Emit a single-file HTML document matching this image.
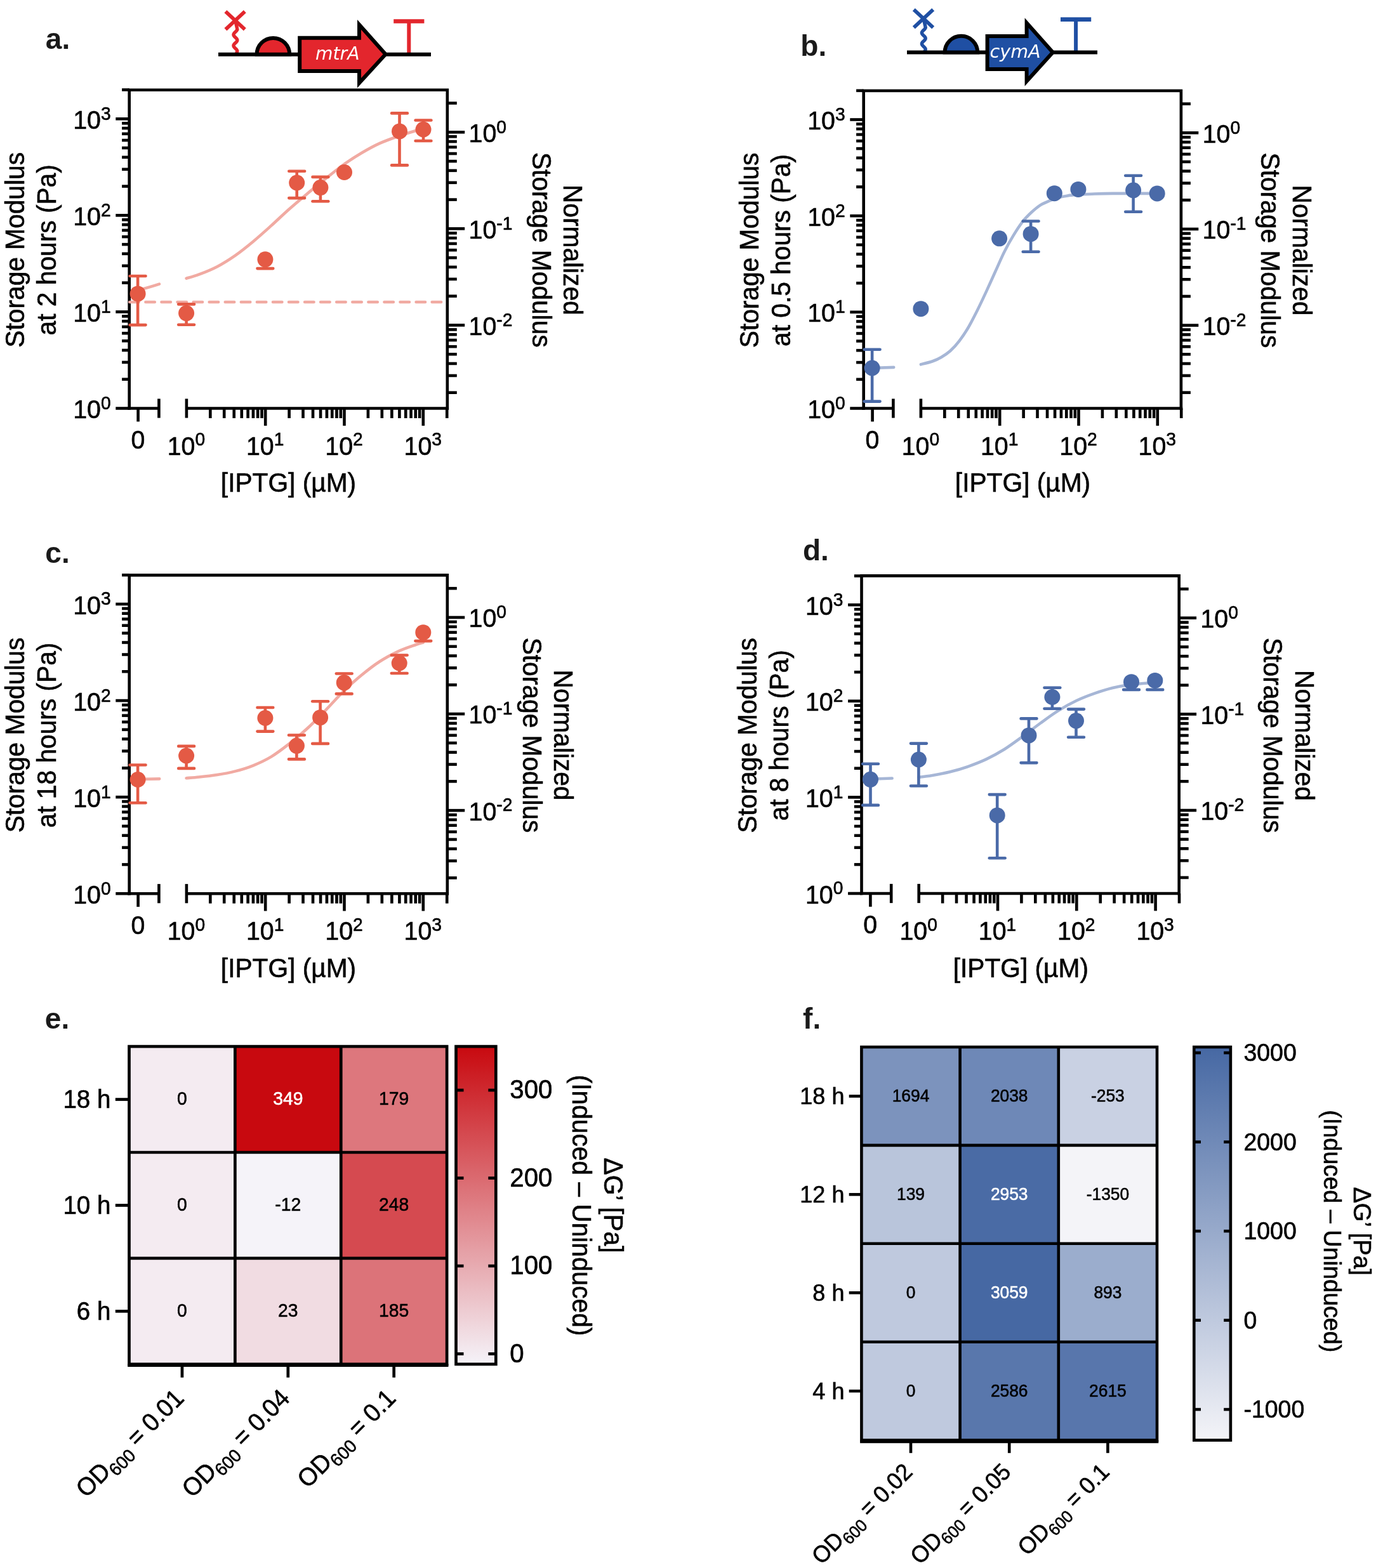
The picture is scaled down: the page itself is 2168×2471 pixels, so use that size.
<!DOCTYPE html>
<html><head><meta charset="utf-8"><title>Figure</title>
<style>
html,body{margin:0;padding:0;background:#fff;}
svg{display:block;font-family:"Liberation Sans", Arial, Helvetica, sans-serif;}
</style></head><body>
<svg width="2168" height="2471" viewBox="0 0 2168 2471">
<rect width="2168" height="2471" fill="#fff"/>
<path d="M203.70 645.80 V141.70 H704.80 V645.80" fill="none" stroke="#000" stroke-width="4.6" stroke-linejoin="miter"/>
<line x1="201.40" y1="643.50" x2="250.40" y2="643.50" stroke="#000" stroke-width="4.6" stroke-linecap="butt" />
<line x1="293.90" y1="643.50" x2="707.10" y2="643.50" stroke="#000" stroke-width="4.6" stroke-linecap="butt" />
<line x1="250.40" y1="628.40" x2="250.40" y2="658.60" stroke="#000" stroke-width="4.6" stroke-linecap="butt" />
<line x1="293.90" y1="628.40" x2="293.90" y2="658.60" stroke="#000" stroke-width="4.6" stroke-linecap="butt" />
<line x1="217.60" y1="643.50" x2="217.60" y2="664.40" stroke="#000" stroke-width="4.6" stroke-linecap="butt" />
<line x1="331.32" y1="643.50" x2="331.32" y2="659.00" stroke="#000" stroke-width="4.6" stroke-linecap="butt" />
<line x1="353.21" y1="643.50" x2="353.21" y2="659.00" stroke="#000" stroke-width="4.6" stroke-linecap="butt" />
<line x1="368.74" y1="643.50" x2="368.74" y2="659.00" stroke="#000" stroke-width="4.6" stroke-linecap="butt" />
<line x1="380.78" y1="643.50" x2="380.78" y2="659.00" stroke="#000" stroke-width="4.6" stroke-linecap="butt" />
<line x1="390.62" y1="643.50" x2="390.62" y2="659.00" stroke="#000" stroke-width="4.6" stroke-linecap="butt" />
<line x1="398.95" y1="643.50" x2="398.95" y2="659.00" stroke="#000" stroke-width="4.6" stroke-linecap="butt" />
<line x1="406.15" y1="643.50" x2="406.15" y2="659.00" stroke="#000" stroke-width="4.6" stroke-linecap="butt" />
<line x1="412.51" y1="643.50" x2="412.51" y2="659.00" stroke="#000" stroke-width="4.6" stroke-linecap="butt" />
<line x1="418.20" y1="643.50" x2="418.20" y2="670.90" stroke="#000" stroke-width="4.6" stroke-linecap="butt" />
<line x1="455.62" y1="643.50" x2="455.62" y2="659.00" stroke="#000" stroke-width="4.6" stroke-linecap="butt" />
<line x1="477.51" y1="643.50" x2="477.51" y2="659.00" stroke="#000" stroke-width="4.6" stroke-linecap="butt" />
<line x1="493.04" y1="643.50" x2="493.04" y2="659.00" stroke="#000" stroke-width="4.6" stroke-linecap="butt" />
<line x1="505.08" y1="643.50" x2="505.08" y2="659.00" stroke="#000" stroke-width="4.6" stroke-linecap="butt" />
<line x1="514.92" y1="643.50" x2="514.92" y2="659.00" stroke="#000" stroke-width="4.6" stroke-linecap="butt" />
<line x1="523.25" y1="643.50" x2="523.25" y2="659.00" stroke="#000" stroke-width="4.6" stroke-linecap="butt" />
<line x1="530.45" y1="643.50" x2="530.45" y2="659.00" stroke="#000" stroke-width="4.6" stroke-linecap="butt" />
<line x1="536.81" y1="643.50" x2="536.81" y2="659.00" stroke="#000" stroke-width="4.6" stroke-linecap="butt" />
<line x1="542.50" y1="643.50" x2="542.50" y2="670.90" stroke="#000" stroke-width="4.6" stroke-linecap="butt" />
<line x1="579.92" y1="643.50" x2="579.92" y2="659.00" stroke="#000" stroke-width="4.6" stroke-linecap="butt" />
<line x1="601.81" y1="643.50" x2="601.81" y2="659.00" stroke="#000" stroke-width="4.6" stroke-linecap="butt" />
<line x1="617.34" y1="643.50" x2="617.34" y2="659.00" stroke="#000" stroke-width="4.6" stroke-linecap="butt" />
<line x1="629.38" y1="643.50" x2="629.38" y2="659.00" stroke="#000" stroke-width="4.6" stroke-linecap="butt" />
<line x1="639.22" y1="643.50" x2="639.22" y2="659.00" stroke="#000" stroke-width="4.6" stroke-linecap="butt" />
<line x1="647.55" y1="643.50" x2="647.55" y2="659.00" stroke="#000" stroke-width="4.6" stroke-linecap="butt" />
<line x1="654.75" y1="643.50" x2="654.75" y2="659.00" stroke="#000" stroke-width="4.6" stroke-linecap="butt" />
<line x1="661.11" y1="643.50" x2="661.11" y2="659.00" stroke="#000" stroke-width="4.6" stroke-linecap="butt" />
<line x1="666.80" y1="643.50" x2="666.80" y2="670.90" stroke="#000" stroke-width="4.6" stroke-linecap="butt" />
<line x1="704.22" y1="643.50" x2="704.22" y2="659.00" stroke="#000" stroke-width="4.6" stroke-linecap="butt" />
<text transform="translate(217.30 706.90) scale(1 1.04)" font-size="39.3" text-anchor="middle" font-weight="normal" font-style="normal" fill="#000" stroke="#000" stroke-width="0.6" >0</text>
<text transform="translate(263.70 716.60) scale(1 1.04)" font-size="39.3" text-anchor="start" font-weight="normal" font-style="normal" fill="#000" stroke="#000" stroke-width="0.6" >10<tspan font-size="28.2" dy="-13.6">0</tspan></text>
<text transform="translate(388.00 716.60) scale(1 1.04)" font-size="39.3" text-anchor="start" font-weight="normal" font-style="normal" fill="#000" stroke="#000" stroke-width="0.6" >10<tspan font-size="28.2" dy="-13.6">1</tspan></text>
<text transform="translate(512.30 716.60) scale(1 1.04)" font-size="39.3" text-anchor="start" font-weight="normal" font-style="normal" fill="#000" stroke="#000" stroke-width="0.6" >10<tspan font-size="28.2" dy="-13.6">2</tspan></text>
<text transform="translate(636.60 716.60) scale(1 1.04)" font-size="39.3" text-anchor="start" font-weight="normal" font-style="normal" fill="#000" stroke="#000" stroke-width="0.6" >10<tspan font-size="28.2" dy="-13.6">3</tspan></text>
<line x1="182.30" y1="643.50" x2="203.70" y2="643.50" stroke="#000" stroke-width="4.6" stroke-linecap="butt" />
<text transform="translate(115.20 659.10) scale(1 1.04)" font-size="39.3" text-anchor="start" font-weight="normal" font-style="normal" fill="#000" stroke="#000" stroke-width="0.6" >10<tspan font-size="28.2" dy="-13.6">0</tspan></text>
<line x1="192.10" y1="597.72" x2="203.70" y2="597.72" stroke="#000" stroke-width="4.6" stroke-linecap="butt" />
<line x1="192.10" y1="570.94" x2="203.70" y2="570.94" stroke="#000" stroke-width="4.6" stroke-linecap="butt" />
<line x1="192.10" y1="551.94" x2="203.70" y2="551.94" stroke="#000" stroke-width="4.6" stroke-linecap="butt" />
<line x1="192.10" y1="537.21" x2="203.70" y2="537.21" stroke="#000" stroke-width="4.6" stroke-linecap="butt" />
<line x1="192.10" y1="525.17" x2="203.70" y2="525.17" stroke="#000" stroke-width="4.6" stroke-linecap="butt" />
<line x1="192.10" y1="514.99" x2="203.70" y2="514.99" stroke="#000" stroke-width="4.6" stroke-linecap="butt" />
<line x1="192.10" y1="506.17" x2="203.70" y2="506.17" stroke="#000" stroke-width="4.6" stroke-linecap="butt" />
<line x1="192.10" y1="498.39" x2="203.70" y2="498.39" stroke="#000" stroke-width="4.6" stroke-linecap="butt" />
<line x1="182.30" y1="491.43" x2="203.70" y2="491.43" stroke="#000" stroke-width="4.6" stroke-linecap="butt" />
<text transform="translate(115.20 507.03) scale(1 1.04)" font-size="39.3" text-anchor="start" font-weight="normal" font-style="normal" fill="#000" stroke="#000" stroke-width="0.6" >10<tspan font-size="28.2" dy="-13.6">1</tspan></text>
<line x1="192.10" y1="445.65" x2="203.70" y2="445.65" stroke="#000" stroke-width="4.6" stroke-linecap="butt" />
<line x1="192.10" y1="418.87" x2="203.70" y2="418.87" stroke="#000" stroke-width="4.6" stroke-linecap="butt" />
<line x1="192.10" y1="399.87" x2="203.70" y2="399.87" stroke="#000" stroke-width="4.6" stroke-linecap="butt" />
<line x1="192.10" y1="385.14" x2="203.70" y2="385.14" stroke="#000" stroke-width="4.6" stroke-linecap="butt" />
<line x1="192.10" y1="373.10" x2="203.70" y2="373.10" stroke="#000" stroke-width="4.6" stroke-linecap="butt" />
<line x1="192.10" y1="362.92" x2="203.70" y2="362.92" stroke="#000" stroke-width="4.6" stroke-linecap="butt" />
<line x1="192.10" y1="354.10" x2="203.70" y2="354.10" stroke="#000" stroke-width="4.6" stroke-linecap="butt" />
<line x1="192.10" y1="346.32" x2="203.70" y2="346.32" stroke="#000" stroke-width="4.6" stroke-linecap="butt" />
<line x1="182.30" y1="339.36" x2="203.70" y2="339.36" stroke="#000" stroke-width="4.6" stroke-linecap="butt" />
<text transform="translate(115.20 354.96) scale(1 1.04)" font-size="39.3" text-anchor="start" font-weight="normal" font-style="normal" fill="#000" stroke="#000" stroke-width="0.6" >10<tspan font-size="28.2" dy="-13.6">2</tspan></text>
<line x1="192.10" y1="293.58" x2="203.70" y2="293.58" stroke="#000" stroke-width="4.6" stroke-linecap="butt" />
<line x1="192.10" y1="266.80" x2="203.70" y2="266.80" stroke="#000" stroke-width="4.6" stroke-linecap="butt" />
<line x1="192.10" y1="247.80" x2="203.70" y2="247.80" stroke="#000" stroke-width="4.6" stroke-linecap="butt" />
<line x1="192.10" y1="233.07" x2="203.70" y2="233.07" stroke="#000" stroke-width="4.6" stroke-linecap="butt" />
<line x1="192.10" y1="221.03" x2="203.70" y2="221.03" stroke="#000" stroke-width="4.6" stroke-linecap="butt" />
<line x1="192.10" y1="210.85" x2="203.70" y2="210.85" stroke="#000" stroke-width="4.6" stroke-linecap="butt" />
<line x1="192.10" y1="202.03" x2="203.70" y2="202.03" stroke="#000" stroke-width="4.6" stroke-linecap="butt" />
<line x1="192.10" y1="194.25" x2="203.70" y2="194.25" stroke="#000" stroke-width="4.6" stroke-linecap="butt" />
<line x1="182.30" y1="187.29" x2="203.70" y2="187.29" stroke="#000" stroke-width="4.6" stroke-linecap="butt" />
<text transform="translate(115.20 202.89) scale(1 1.04)" font-size="39.3" text-anchor="start" font-weight="normal" font-style="normal" fill="#000" stroke="#000" stroke-width="0.6" >10<tspan font-size="28.2" dy="-13.6">3</tspan></text>
<line x1="192.10" y1="141.51" x2="203.70" y2="141.51" stroke="#000" stroke-width="4.6" stroke-linecap="butt" />
<line x1="704.80" y1="208.30" x2="732.20" y2="208.30" stroke="#000" stroke-width="4.6" stroke-linecap="butt" />
<text transform="translate(738.60 223.70) scale(1 1.04)" font-size="39.3" text-anchor="start" font-weight="normal" font-style="normal" fill="#000" stroke="#000" stroke-width="0.6" >10<tspan font-size="28.2" dy="-13.6">0</tspan></text>
<line x1="704.80" y1="360.37" x2="732.20" y2="360.37" stroke="#000" stroke-width="4.6" stroke-linecap="butt" />
<text transform="translate(738.60 375.77) scale(1 1.04)" font-size="39.3" text-anchor="start" font-weight="normal" font-style="normal" fill="#000" stroke="#000" stroke-width="0.6" >10<tspan font-size="28.2" dy="-13.6">-1</tspan></text>
<line x1="704.80" y1="512.44" x2="732.20" y2="512.44" stroke="#000" stroke-width="4.6" stroke-linecap="butt" />
<text transform="translate(738.60 527.84) scale(1 1.04)" font-size="39.3" text-anchor="start" font-weight="normal" font-style="normal" fill="#000" stroke="#000" stroke-width="0.6" >10<tspan font-size="28.2" dy="-13.6">-2</tspan></text>
<line x1="704.80" y1="162.52" x2="719.80" y2="162.52" stroke="#000" stroke-width="4.6" stroke-linecap="butt" />
<line x1="704.80" y1="314.59" x2="719.80" y2="314.59" stroke="#000" stroke-width="4.6" stroke-linecap="butt" />
<line x1="704.80" y1="287.81" x2="719.80" y2="287.81" stroke="#000" stroke-width="4.6" stroke-linecap="butt" />
<line x1="704.80" y1="268.81" x2="719.80" y2="268.81" stroke="#000" stroke-width="4.6" stroke-linecap="butt" />
<line x1="704.80" y1="254.08" x2="719.80" y2="254.08" stroke="#000" stroke-width="4.6" stroke-linecap="butt" />
<line x1="704.80" y1="242.04" x2="719.80" y2="242.04" stroke="#000" stroke-width="4.6" stroke-linecap="butt" />
<line x1="704.80" y1="231.86" x2="719.80" y2="231.86" stroke="#000" stroke-width="4.6" stroke-linecap="butt" />
<line x1="704.80" y1="223.04" x2="719.80" y2="223.04" stroke="#000" stroke-width="4.6" stroke-linecap="butt" />
<line x1="704.80" y1="215.26" x2="719.80" y2="215.26" stroke="#000" stroke-width="4.6" stroke-linecap="butt" />
<line x1="704.80" y1="466.66" x2="719.80" y2="466.66" stroke="#000" stroke-width="4.6" stroke-linecap="butt" />
<line x1="704.80" y1="439.88" x2="719.80" y2="439.88" stroke="#000" stroke-width="4.6" stroke-linecap="butt" />
<line x1="704.80" y1="420.88" x2="719.80" y2="420.88" stroke="#000" stroke-width="4.6" stroke-linecap="butt" />
<line x1="704.80" y1="406.15" x2="719.80" y2="406.15" stroke="#000" stroke-width="4.6" stroke-linecap="butt" />
<line x1="704.80" y1="394.11" x2="719.80" y2="394.11" stroke="#000" stroke-width="4.6" stroke-linecap="butt" />
<line x1="704.80" y1="383.93" x2="719.80" y2="383.93" stroke="#000" stroke-width="4.6" stroke-linecap="butt" />
<line x1="704.80" y1="375.11" x2="719.80" y2="375.11" stroke="#000" stroke-width="4.6" stroke-linecap="butt" />
<line x1="704.80" y1="367.33" x2="719.80" y2="367.33" stroke="#000" stroke-width="4.6" stroke-linecap="butt" />
<line x1="704.80" y1="618.73" x2="719.80" y2="618.73" stroke="#000" stroke-width="4.6" stroke-linecap="butt" />
<line x1="704.80" y1="591.95" x2="719.80" y2="591.95" stroke="#000" stroke-width="4.6" stroke-linecap="butt" />
<line x1="704.80" y1="572.95" x2="719.80" y2="572.95" stroke="#000" stroke-width="4.6" stroke-linecap="butt" />
<line x1="704.80" y1="558.22" x2="719.80" y2="558.22" stroke="#000" stroke-width="4.6" stroke-linecap="butt" />
<line x1="704.80" y1="546.18" x2="719.80" y2="546.18" stroke="#000" stroke-width="4.6" stroke-linecap="butt" />
<line x1="704.80" y1="536.00" x2="719.80" y2="536.00" stroke="#000" stroke-width="4.6" stroke-linecap="butt" />
<line x1="704.80" y1="527.18" x2="719.80" y2="527.18" stroke="#000" stroke-width="4.6" stroke-linecap="butt" />
<line x1="704.80" y1="519.40" x2="719.80" y2="519.40" stroke="#000" stroke-width="4.6" stroke-linecap="butt" />
<path d="M293.6 438.7 C296.9 437.7 305.7 435.5 313.8 432.4 C321.9 429.4 332.7 425.2 342.2 420.2 C351.7 415.2 361.2 409.2 370.7 402.6 C380.1 395.9 389.6 388.3 399.1 380.4 C408.6 372.5 418.1 363.9 427.6 355.4 C437.0 346.8 446.5 337.6 456.0 329.2 C465.5 320.8 475.0 312.9 484.4 305.0 C493.9 297.1 503.4 289.3 512.9 281.7 C522.4 274.1 531.8 266.3 541.3 259.5 C550.8 252.7 560.3 246.6 569.8 241.0 C579.3 235.4 588.3 230.4 598.2 225.9 C608.2 221.4 620.0 217.3 629.5 214.0 C639.0 210.7 648.8 207.8 655.1 206.0 C661.4 204.3 665.1 203.9 667.0 203.5" fill="none" stroke="#f1aaa2" stroke-width="4.6" stroke-linecap="round" stroke-linejoin="round"/>
<path d="M217 457.5 Q236 452.5 251 447.6" fill="none" stroke="#f1aaa2" stroke-width="4.6" stroke-linecap="round" stroke-linejoin="round"/>
<line x1="204.35" y1="476" x2="703" y2="476" stroke="#f1aaa2" stroke-width="4.6" stroke-dasharray="14.4 10.67" stroke-dashoffset="0" stroke-linecap="round"/>
<line x1="217.10" y1="435.00" x2="217.10" y2="512.10" stroke="#e45a45" stroke-width="4.6" stroke-linecap="butt" />
<line x1="204.70" y1="435.00" x2="229.50" y2="435.00" stroke="#e45a45" stroke-width="4.6" stroke-linecap="round" />
<line x1="204.70" y1="512.10" x2="229.50" y2="512.10" stroke="#e45a45" stroke-width="4.6" stroke-linecap="round" />
<line x1="293.60" y1="479.40" x2="293.60" y2="511.80" stroke="#e45a45" stroke-width="4.6" stroke-linecap="butt" />
<line x1="281.20" y1="479.40" x2="306.00" y2="479.40" stroke="#e45a45" stroke-width="4.6" stroke-linecap="round" />
<line x1="281.20" y1="511.80" x2="306.00" y2="511.80" stroke="#e45a45" stroke-width="4.6" stroke-linecap="round" />
<line x1="417.90" y1="408.80" x2="417.90" y2="423.10" stroke="#e45a45" stroke-width="4.6" stroke-linecap="butt" />
<line x1="405.50" y1="423.10" x2="430.30" y2="423.10" stroke="#e45a45" stroke-width="4.6" stroke-linecap="round" />
<line x1="467.70" y1="269.70" x2="467.70" y2="312.10" stroke="#e45a45" stroke-width="4.6" stroke-linecap="butt" />
<line x1="455.30" y1="269.70" x2="480.10" y2="269.70" stroke="#e45a45" stroke-width="4.6" stroke-linecap="round" />
<line x1="455.30" y1="312.10" x2="480.10" y2="312.10" stroke="#e45a45" stroke-width="4.6" stroke-linecap="round" />
<line x1="504.90" y1="278.90" x2="504.90" y2="317.30" stroke="#e45a45" stroke-width="4.6" stroke-linecap="butt" />
<line x1="492.50" y1="278.90" x2="517.30" y2="278.90" stroke="#e45a45" stroke-width="4.6" stroke-linecap="round" />
<line x1="492.50" y1="317.30" x2="517.30" y2="317.30" stroke="#e45a45" stroke-width="4.6" stroke-linecap="round" />
<line x1="629.50" y1="178.40" x2="629.50" y2="260.40" stroke="#e45a45" stroke-width="4.6" stroke-linecap="butt" />
<line x1="617.10" y1="178.40" x2="641.90" y2="178.40" stroke="#e45a45" stroke-width="4.6" stroke-linecap="round" />
<line x1="617.10" y1="260.40" x2="641.90" y2="260.40" stroke="#e45a45" stroke-width="4.6" stroke-linecap="round" />
<line x1="667.00" y1="189.50" x2="667.00" y2="222.00" stroke="#e45a45" stroke-width="4.6" stroke-linecap="butt" />
<line x1="654.60" y1="189.50" x2="679.40" y2="189.50" stroke="#e45a45" stroke-width="4.6" stroke-linecap="round" />
<line x1="654.60" y1="222.00" x2="679.40" y2="222.00" stroke="#e45a45" stroke-width="4.6" stroke-linecap="round" />
<circle cx="217.10" cy="462.90" r="12.5" fill="#e45a45"/>
<circle cx="293.60" cy="493.60" r="12.5" fill="#e45a45"/>
<circle cx="417.90" cy="408.80" r="12.5" fill="#e45a45"/>
<circle cx="467.70" cy="288.00" r="12.5" fill="#e45a45"/>
<circle cx="504.90" cy="295.60" r="12.5" fill="#e45a45"/>
<circle cx="542.50" cy="271.50" r="12.5" fill="#e45a45"/>
<circle cx="629.50" cy="206.90" r="12.5" fill="#e45a45"/>
<circle cx="667.00" cy="204.00" r="12.5" fill="#e45a45"/>
<text transform="translate(38.00 393.80) rotate(-90) scale(1 1.04)" font-size="40.7" text-anchor="middle" font-weight="normal" font-style="normal" fill="#000" stroke="#000" stroke-width="0.6" >Storage Modulus</text>
<text transform="translate(88.00 393.80) rotate(-90) scale(1 1.04)" font-size="40.7" text-anchor="middle" font-weight="normal" font-style="normal" fill="#000" stroke="#000" stroke-width="0.6" >at 2 hours (Pa)</text>
<text transform="translate(888.00 393.80) rotate(90) scale(1 1.04)" font-size="40.7" text-anchor="middle" font-weight="normal" font-style="normal" fill="#000" stroke="#000" stroke-width="0.6" >Normalized</text>
<text transform="translate(838.50 393.80) rotate(90) scale(1 1.04)" font-size="40.7" text-anchor="middle" font-weight="normal" font-style="normal" fill="#000" stroke="#000" stroke-width="0.6" >Storage Modulus</text>
<text transform="translate(454.50 775.30) scale(1 1.04)" font-size="40.7" text-anchor="middle" font-weight="normal" font-style="normal" fill="#000" stroke="#000" stroke-width="0.6" >[IPTG] (µM)</text>
<text transform="translate(71.80 76.50)" font-size="46" text-anchor="start" font-weight="bold" font-style="normal" fill="#1a1a1a" >a.</text>
<path d="M1360.70 645.80 V143.00 H1860.90 V645.80" fill="none" stroke="#000" stroke-width="4.6" stroke-linejoin="miter"/>
<line x1="1358.40" y1="643.50" x2="1407.40" y2="643.50" stroke="#000" stroke-width="4.6" stroke-linecap="butt" />
<line x1="1450.90" y1="643.50" x2="1863.20" y2="643.50" stroke="#000" stroke-width="4.6" stroke-linecap="butt" />
<line x1="1407.40" y1="628.40" x2="1407.40" y2="658.60" stroke="#000" stroke-width="4.6" stroke-linecap="butt" />
<line x1="1450.90" y1="628.40" x2="1450.90" y2="658.60" stroke="#000" stroke-width="4.6" stroke-linecap="butt" />
<line x1="1374.60" y1="643.50" x2="1374.60" y2="664.40" stroke="#000" stroke-width="4.6" stroke-linecap="butt" />
<line x1="1488.32" y1="643.50" x2="1488.32" y2="659.00" stroke="#000" stroke-width="4.6" stroke-linecap="butt" />
<line x1="1510.21" y1="643.50" x2="1510.21" y2="659.00" stroke="#000" stroke-width="4.6" stroke-linecap="butt" />
<line x1="1525.74" y1="643.50" x2="1525.74" y2="659.00" stroke="#000" stroke-width="4.6" stroke-linecap="butt" />
<line x1="1537.78" y1="643.50" x2="1537.78" y2="659.00" stroke="#000" stroke-width="4.6" stroke-linecap="butt" />
<line x1="1547.62" y1="643.50" x2="1547.62" y2="659.00" stroke="#000" stroke-width="4.6" stroke-linecap="butt" />
<line x1="1555.95" y1="643.50" x2="1555.95" y2="659.00" stroke="#000" stroke-width="4.6" stroke-linecap="butt" />
<line x1="1563.15" y1="643.50" x2="1563.15" y2="659.00" stroke="#000" stroke-width="4.6" stroke-linecap="butt" />
<line x1="1569.51" y1="643.50" x2="1569.51" y2="659.00" stroke="#000" stroke-width="4.6" stroke-linecap="butt" />
<line x1="1575.20" y1="643.50" x2="1575.20" y2="670.90" stroke="#000" stroke-width="4.6" stroke-linecap="butt" />
<line x1="1612.62" y1="643.50" x2="1612.62" y2="659.00" stroke="#000" stroke-width="4.6" stroke-linecap="butt" />
<line x1="1634.51" y1="643.50" x2="1634.51" y2="659.00" stroke="#000" stroke-width="4.6" stroke-linecap="butt" />
<line x1="1650.04" y1="643.50" x2="1650.04" y2="659.00" stroke="#000" stroke-width="4.6" stroke-linecap="butt" />
<line x1="1662.08" y1="643.50" x2="1662.08" y2="659.00" stroke="#000" stroke-width="4.6" stroke-linecap="butt" />
<line x1="1671.92" y1="643.50" x2="1671.92" y2="659.00" stroke="#000" stroke-width="4.6" stroke-linecap="butt" />
<line x1="1680.25" y1="643.50" x2="1680.25" y2="659.00" stroke="#000" stroke-width="4.6" stroke-linecap="butt" />
<line x1="1687.45" y1="643.50" x2="1687.45" y2="659.00" stroke="#000" stroke-width="4.6" stroke-linecap="butt" />
<line x1="1693.81" y1="643.50" x2="1693.81" y2="659.00" stroke="#000" stroke-width="4.6" stroke-linecap="butt" />
<line x1="1699.50" y1="643.50" x2="1699.50" y2="670.90" stroke="#000" stroke-width="4.6" stroke-linecap="butt" />
<line x1="1736.92" y1="643.50" x2="1736.92" y2="659.00" stroke="#000" stroke-width="4.6" stroke-linecap="butt" />
<line x1="1758.81" y1="643.50" x2="1758.81" y2="659.00" stroke="#000" stroke-width="4.6" stroke-linecap="butt" />
<line x1="1774.34" y1="643.50" x2="1774.34" y2="659.00" stroke="#000" stroke-width="4.6" stroke-linecap="butt" />
<line x1="1786.38" y1="643.50" x2="1786.38" y2="659.00" stroke="#000" stroke-width="4.6" stroke-linecap="butt" />
<line x1="1796.22" y1="643.50" x2="1796.22" y2="659.00" stroke="#000" stroke-width="4.6" stroke-linecap="butt" />
<line x1="1804.55" y1="643.50" x2="1804.55" y2="659.00" stroke="#000" stroke-width="4.6" stroke-linecap="butt" />
<line x1="1811.75" y1="643.50" x2="1811.75" y2="659.00" stroke="#000" stroke-width="4.6" stroke-linecap="butt" />
<line x1="1818.11" y1="643.50" x2="1818.11" y2="659.00" stroke="#000" stroke-width="4.6" stroke-linecap="butt" />
<line x1="1823.80" y1="643.50" x2="1823.80" y2="670.90" stroke="#000" stroke-width="4.6" stroke-linecap="butt" />
<line x1="1861.22" y1="643.50" x2="1861.22" y2="659.00" stroke="#000" stroke-width="4.6" stroke-linecap="butt" />
<text transform="translate(1374.30 706.90) scale(1 1.04)" font-size="39.3" text-anchor="middle" font-weight="normal" font-style="normal" fill="#000" stroke="#000" stroke-width="0.6" >0</text>
<text transform="translate(1420.70 716.60) scale(1 1.04)" font-size="39.3" text-anchor="start" font-weight="normal" font-style="normal" fill="#000" stroke="#000" stroke-width="0.6" >10<tspan font-size="28.2" dy="-13.6">0</tspan></text>
<text transform="translate(1545.00 716.60) scale(1 1.04)" font-size="39.3" text-anchor="start" font-weight="normal" font-style="normal" fill="#000" stroke="#000" stroke-width="0.6" >10<tspan font-size="28.2" dy="-13.6">1</tspan></text>
<text transform="translate(1669.30 716.60) scale(1 1.04)" font-size="39.3" text-anchor="start" font-weight="normal" font-style="normal" fill="#000" stroke="#000" stroke-width="0.6" >10<tspan font-size="28.2" dy="-13.6">2</tspan></text>
<text transform="translate(1793.60 716.60) scale(1 1.04)" font-size="39.3" text-anchor="start" font-weight="normal" font-style="normal" fill="#000" stroke="#000" stroke-width="0.6" >10<tspan font-size="28.2" dy="-13.6">3</tspan></text>
<line x1="1339.30" y1="643.50" x2="1360.70" y2="643.50" stroke="#000" stroke-width="4.6" stroke-linecap="butt" />
<text transform="translate(1272.20 659.10) scale(1 1.04)" font-size="39.3" text-anchor="start" font-weight="normal" font-style="normal" fill="#000" stroke="#000" stroke-width="0.6" >10<tspan font-size="28.2" dy="-13.6">0</tspan></text>
<line x1="1349.10" y1="597.84" x2="1360.70" y2="597.84" stroke="#000" stroke-width="4.6" stroke-linecap="butt" />
<line x1="1349.10" y1="571.14" x2="1360.70" y2="571.14" stroke="#000" stroke-width="4.6" stroke-linecap="butt" />
<line x1="1349.10" y1="552.19" x2="1360.70" y2="552.19" stroke="#000" stroke-width="4.6" stroke-linecap="butt" />
<line x1="1349.10" y1="537.49" x2="1360.70" y2="537.49" stroke="#000" stroke-width="4.6" stroke-linecap="butt" />
<line x1="1349.10" y1="525.48" x2="1360.70" y2="525.48" stroke="#000" stroke-width="4.6" stroke-linecap="butt" />
<line x1="1349.10" y1="515.32" x2="1360.70" y2="515.32" stroke="#000" stroke-width="4.6" stroke-linecap="butt" />
<line x1="1349.10" y1="506.53" x2="1360.70" y2="506.53" stroke="#000" stroke-width="4.6" stroke-linecap="butt" />
<line x1="1349.10" y1="498.77" x2="1360.70" y2="498.77" stroke="#000" stroke-width="4.6" stroke-linecap="butt" />
<line x1="1339.30" y1="491.83" x2="1360.70" y2="491.83" stroke="#000" stroke-width="4.6" stroke-linecap="butt" />
<text transform="translate(1272.20 507.43) scale(1 1.04)" font-size="39.3" text-anchor="start" font-weight="normal" font-style="normal" fill="#000" stroke="#000" stroke-width="0.6" >10<tspan font-size="28.2" dy="-13.6">1</tspan></text>
<line x1="1349.10" y1="446.17" x2="1360.70" y2="446.17" stroke="#000" stroke-width="4.6" stroke-linecap="butt" />
<line x1="1349.10" y1="419.47" x2="1360.70" y2="419.47" stroke="#000" stroke-width="4.6" stroke-linecap="butt" />
<line x1="1349.10" y1="400.52" x2="1360.70" y2="400.52" stroke="#000" stroke-width="4.6" stroke-linecap="butt" />
<line x1="1349.10" y1="385.82" x2="1360.70" y2="385.82" stroke="#000" stroke-width="4.6" stroke-linecap="butt" />
<line x1="1349.10" y1="373.81" x2="1360.70" y2="373.81" stroke="#000" stroke-width="4.6" stroke-linecap="butt" />
<line x1="1349.10" y1="363.65" x2="1360.70" y2="363.65" stroke="#000" stroke-width="4.6" stroke-linecap="butt" />
<line x1="1349.10" y1="354.86" x2="1360.70" y2="354.86" stroke="#000" stroke-width="4.6" stroke-linecap="butt" />
<line x1="1349.10" y1="347.10" x2="1360.70" y2="347.10" stroke="#000" stroke-width="4.6" stroke-linecap="butt" />
<line x1="1339.30" y1="340.16" x2="1360.70" y2="340.16" stroke="#000" stroke-width="4.6" stroke-linecap="butt" />
<text transform="translate(1272.20 355.76) scale(1 1.04)" font-size="39.3" text-anchor="start" font-weight="normal" font-style="normal" fill="#000" stroke="#000" stroke-width="0.6" >10<tspan font-size="28.2" dy="-13.6">2</tspan></text>
<line x1="1349.10" y1="294.50" x2="1360.70" y2="294.50" stroke="#000" stroke-width="4.6" stroke-linecap="butt" />
<line x1="1349.10" y1="267.80" x2="1360.70" y2="267.80" stroke="#000" stroke-width="4.6" stroke-linecap="butt" />
<line x1="1349.10" y1="248.85" x2="1360.70" y2="248.85" stroke="#000" stroke-width="4.6" stroke-linecap="butt" />
<line x1="1349.10" y1="234.15" x2="1360.70" y2="234.15" stroke="#000" stroke-width="4.6" stroke-linecap="butt" />
<line x1="1349.10" y1="222.14" x2="1360.70" y2="222.14" stroke="#000" stroke-width="4.6" stroke-linecap="butt" />
<line x1="1349.10" y1="211.98" x2="1360.70" y2="211.98" stroke="#000" stroke-width="4.6" stroke-linecap="butt" />
<line x1="1349.10" y1="203.19" x2="1360.70" y2="203.19" stroke="#000" stroke-width="4.6" stroke-linecap="butt" />
<line x1="1349.10" y1="195.43" x2="1360.70" y2="195.43" stroke="#000" stroke-width="4.6" stroke-linecap="butt" />
<line x1="1339.30" y1="188.49" x2="1360.70" y2="188.49" stroke="#000" stroke-width="4.6" stroke-linecap="butt" />
<text transform="translate(1272.20 204.09) scale(1 1.04)" font-size="39.3" text-anchor="start" font-weight="normal" font-style="normal" fill="#000" stroke="#000" stroke-width="0.6" >10<tspan font-size="28.2" dy="-13.6">3</tspan></text>
<line x1="1349.10" y1="142.83" x2="1360.70" y2="142.83" stroke="#000" stroke-width="4.6" stroke-linecap="butt" />
<line x1="1860.90" y1="209.30" x2="1888.30" y2="209.30" stroke="#000" stroke-width="4.6" stroke-linecap="butt" />
<text transform="translate(1894.70 224.70) scale(1 1.04)" font-size="39.3" text-anchor="start" font-weight="normal" font-style="normal" fill="#000" stroke="#000" stroke-width="0.6" >10<tspan font-size="28.2" dy="-13.6">0</tspan></text>
<line x1="1860.90" y1="360.97" x2="1888.30" y2="360.97" stroke="#000" stroke-width="4.6" stroke-linecap="butt" />
<text transform="translate(1894.70 376.37) scale(1 1.04)" font-size="39.3" text-anchor="start" font-weight="normal" font-style="normal" fill="#000" stroke="#000" stroke-width="0.6" >10<tspan font-size="28.2" dy="-13.6">-1</tspan></text>
<line x1="1860.90" y1="512.64" x2="1888.30" y2="512.64" stroke="#000" stroke-width="4.6" stroke-linecap="butt" />
<text transform="translate(1894.70 528.04) scale(1 1.04)" font-size="39.3" text-anchor="start" font-weight="normal" font-style="normal" fill="#000" stroke="#000" stroke-width="0.6" >10<tspan font-size="28.2" dy="-13.6">-2</tspan></text>
<line x1="1860.90" y1="163.64" x2="1875.90" y2="163.64" stroke="#000" stroke-width="4.6" stroke-linecap="butt" />
<line x1="1860.90" y1="315.31" x2="1875.90" y2="315.31" stroke="#000" stroke-width="4.6" stroke-linecap="butt" />
<line x1="1860.90" y1="288.61" x2="1875.90" y2="288.61" stroke="#000" stroke-width="4.6" stroke-linecap="butt" />
<line x1="1860.90" y1="269.66" x2="1875.90" y2="269.66" stroke="#000" stroke-width="4.6" stroke-linecap="butt" />
<line x1="1860.90" y1="254.96" x2="1875.90" y2="254.96" stroke="#000" stroke-width="4.6" stroke-linecap="butt" />
<line x1="1860.90" y1="242.95" x2="1875.90" y2="242.95" stroke="#000" stroke-width="4.6" stroke-linecap="butt" />
<line x1="1860.90" y1="232.79" x2="1875.90" y2="232.79" stroke="#000" stroke-width="4.6" stroke-linecap="butt" />
<line x1="1860.90" y1="224.00" x2="1875.90" y2="224.00" stroke="#000" stroke-width="4.6" stroke-linecap="butt" />
<line x1="1860.90" y1="216.24" x2="1875.90" y2="216.24" stroke="#000" stroke-width="4.6" stroke-linecap="butt" />
<line x1="1860.90" y1="466.98" x2="1875.90" y2="466.98" stroke="#000" stroke-width="4.6" stroke-linecap="butt" />
<line x1="1860.90" y1="440.28" x2="1875.90" y2="440.28" stroke="#000" stroke-width="4.6" stroke-linecap="butt" />
<line x1="1860.90" y1="421.33" x2="1875.90" y2="421.33" stroke="#000" stroke-width="4.6" stroke-linecap="butt" />
<line x1="1860.90" y1="406.63" x2="1875.90" y2="406.63" stroke="#000" stroke-width="4.6" stroke-linecap="butt" />
<line x1="1860.90" y1="394.62" x2="1875.90" y2="394.62" stroke="#000" stroke-width="4.6" stroke-linecap="butt" />
<line x1="1860.90" y1="384.46" x2="1875.90" y2="384.46" stroke="#000" stroke-width="4.6" stroke-linecap="butt" />
<line x1="1860.90" y1="375.67" x2="1875.90" y2="375.67" stroke="#000" stroke-width="4.6" stroke-linecap="butt" />
<line x1="1860.90" y1="367.91" x2="1875.90" y2="367.91" stroke="#000" stroke-width="4.6" stroke-linecap="butt" />
<line x1="1860.90" y1="618.65" x2="1875.90" y2="618.65" stroke="#000" stroke-width="4.6" stroke-linecap="butt" />
<line x1="1860.90" y1="591.95" x2="1875.90" y2="591.95" stroke="#000" stroke-width="4.6" stroke-linecap="butt" />
<line x1="1860.90" y1="573.00" x2="1875.90" y2="573.00" stroke="#000" stroke-width="4.6" stroke-linecap="butt" />
<line x1="1860.90" y1="558.30" x2="1875.90" y2="558.30" stroke="#000" stroke-width="4.6" stroke-linecap="butt" />
<line x1="1860.90" y1="546.29" x2="1875.90" y2="546.29" stroke="#000" stroke-width="4.6" stroke-linecap="butt" />
<line x1="1860.90" y1="536.13" x2="1875.90" y2="536.13" stroke="#000" stroke-width="4.6" stroke-linecap="butt" />
<line x1="1860.90" y1="527.34" x2="1875.90" y2="527.34" stroke="#000" stroke-width="4.6" stroke-linecap="butt" />
<line x1="1860.90" y1="519.58" x2="1875.90" y2="519.58" stroke="#000" stroke-width="4.6" stroke-linecap="butt" />
<path d="M1450.9 574.3 C1453.8 573.5 1463.4 571.4 1468.8 569.5 C1474.1 567.6 1478.3 565.7 1483.0 562.9 C1487.7 560.2 1492.5 557.2 1497.2 553.0 C1502.0 548.7 1506.7 543.5 1511.4 537.3 C1516.2 531.2 1520.9 524.1 1525.7 516.0 C1530.4 507.9 1535.1 498.5 1539.9 489.0 C1544.6 479.5 1549.4 469.3 1554.1 459.1 C1558.8 448.9 1563.6 438.2 1568.3 427.8 C1573.1 417.4 1577.8 406.0 1582.6 396.5 C1587.3 387.0 1592.0 378.8 1596.8 370.9 C1601.5 363.1 1606.3 355.7 1611.0 349.6 C1615.7 343.5 1620.5 338.9 1625.2 334.5 C1630.0 330.1 1634.7 326.2 1639.4 323.1 C1644.2 320.1 1648.9 318.3 1653.7 316.3 C1658.4 314.3 1663.1 312.5 1667.9 311.2 C1672.6 309.9 1677.4 309.1 1682.1 308.4 C1686.8 307.6 1689.2 307.4 1696.3 306.9 C1703.4 306.5 1715.3 305.8 1724.8 305.5 C1734.3 305.2 1743.7 305.0 1753.2 304.9 C1762.7 304.8 1770.0 304.9 1781.7 304.9 C1793.3 304.9 1816.3 304.9 1823.2 304.9" fill="none" stroke="#a6b6d6" stroke-width="4.6" stroke-linecap="round" stroke-linejoin="round"/>
<path d="M1374 580 L1408.2 578.9" fill="none" stroke="#a6b6d6" stroke-width="4.6" stroke-linecap="round" stroke-linejoin="round"/>
<line x1="1374.10" y1="550.70" x2="1374.10" y2="632.60" stroke="#4a6aa8" stroke-width="4.6" stroke-linecap="butt" />
<line x1="1361.70" y1="550.70" x2="1386.50" y2="550.70" stroke="#4a6aa8" stroke-width="4.6" stroke-linecap="round" />
<line x1="1361.70" y1="632.60" x2="1386.50" y2="632.60" stroke="#4a6aa8" stroke-width="4.6" stroke-linecap="round" />
<line x1="1624.10" y1="348.50" x2="1624.10" y2="396.80" stroke="#4a6aa8" stroke-width="4.6" stroke-linecap="butt" />
<line x1="1611.70" y1="348.50" x2="1636.50" y2="348.50" stroke="#4a6aa8" stroke-width="4.6" stroke-linecap="round" />
<line x1="1611.70" y1="396.80" x2="1636.50" y2="396.80" stroke="#4a6aa8" stroke-width="4.6" stroke-linecap="round" />
<line x1="1785.60" y1="276.80" x2="1785.60" y2="333.70" stroke="#4a6aa8" stroke-width="4.6" stroke-linecap="butt" />
<line x1="1773.20" y1="276.80" x2="1798.00" y2="276.80" stroke="#4a6aa8" stroke-width="4.6" stroke-linecap="round" />
<line x1="1773.20" y1="333.70" x2="1798.00" y2="333.70" stroke="#4a6aa8" stroke-width="4.6" stroke-linecap="round" />
<circle cx="1374.10" cy="580.00" r="12.5" fill="#4a6aa8"/>
<circle cx="1450.90" cy="486.70" r="12.5" fill="#4a6aa8"/>
<circle cx="1574.60" cy="375.80" r="12.5" fill="#4a6aa8"/>
<circle cx="1624.10" cy="368.70" r="12.5" fill="#4a6aa8"/>
<circle cx="1661.30" cy="304.70" r="12.5" fill="#4a6aa8"/>
<circle cx="1698.90" cy="298.40" r="12.5" fill="#4a6aa8"/>
<circle cx="1785.60" cy="299.80" r="12.5" fill="#4a6aa8"/>
<circle cx="1823.20" cy="304.90" r="12.5" fill="#4a6aa8"/>
<text transform="translate(1195.00 394.45) rotate(-90) scale(1 1.04)" font-size="40.7" text-anchor="middle" font-weight="normal" font-style="normal" fill="#000" stroke="#000" stroke-width="0.6" >Storage Modulus</text>
<text transform="translate(1245.00 394.45) rotate(-90) scale(1 1.04)" font-size="40.7" text-anchor="middle" font-weight="normal" font-style="normal" fill="#000" stroke="#000" stroke-width="0.6" >at 0.5 hours (Pa)</text>
<text transform="translate(2036.60 394.45) rotate(90) scale(1 1.04)" font-size="40.7" text-anchor="middle" font-weight="normal" font-style="normal" fill="#000" stroke="#000" stroke-width="0.6" >Normalized</text>
<text transform="translate(1987.10 394.45) rotate(90) scale(1 1.04)" font-size="40.7" text-anchor="middle" font-weight="normal" font-style="normal" fill="#000" stroke="#000" stroke-width="0.6" >Storage Modulus</text>
<text transform="translate(1611.50 775.30) scale(1 1.04)" font-size="40.7" text-anchor="middle" font-weight="normal" font-style="normal" fill="#000" stroke="#000" stroke-width="0.6" >[IPTG] (µM)</text>
<text transform="translate(1261.30 88.00)" font-size="46" text-anchor="start" font-weight="bold" font-style="normal" fill="#1a1a1a" >b.</text>
<path d="M203.70 1410.50 V906.40 H704.80 V1410.50" fill="none" stroke="#000" stroke-width="4.6" stroke-linejoin="miter"/>
<line x1="201.40" y1="1408.20" x2="250.40" y2="1408.20" stroke="#000" stroke-width="4.6" stroke-linecap="butt" />
<line x1="293.90" y1="1408.20" x2="707.10" y2="1408.20" stroke="#000" stroke-width="4.6" stroke-linecap="butt" />
<line x1="250.40" y1="1393.10" x2="250.40" y2="1423.30" stroke="#000" stroke-width="4.6" stroke-linecap="butt" />
<line x1="293.90" y1="1393.10" x2="293.90" y2="1423.30" stroke="#000" stroke-width="4.6" stroke-linecap="butt" />
<line x1="217.60" y1="1408.20" x2="217.60" y2="1429.10" stroke="#000" stroke-width="4.6" stroke-linecap="butt" />
<line x1="331.32" y1="1408.20" x2="331.32" y2="1423.70" stroke="#000" stroke-width="4.6" stroke-linecap="butt" />
<line x1="353.21" y1="1408.20" x2="353.21" y2="1423.70" stroke="#000" stroke-width="4.6" stroke-linecap="butt" />
<line x1="368.74" y1="1408.20" x2="368.74" y2="1423.70" stroke="#000" stroke-width="4.6" stroke-linecap="butt" />
<line x1="380.78" y1="1408.20" x2="380.78" y2="1423.70" stroke="#000" stroke-width="4.6" stroke-linecap="butt" />
<line x1="390.62" y1="1408.20" x2="390.62" y2="1423.70" stroke="#000" stroke-width="4.6" stroke-linecap="butt" />
<line x1="398.95" y1="1408.20" x2="398.95" y2="1423.70" stroke="#000" stroke-width="4.6" stroke-linecap="butt" />
<line x1="406.15" y1="1408.20" x2="406.15" y2="1423.70" stroke="#000" stroke-width="4.6" stroke-linecap="butt" />
<line x1="412.51" y1="1408.20" x2="412.51" y2="1423.70" stroke="#000" stroke-width="4.6" stroke-linecap="butt" />
<line x1="418.20" y1="1408.20" x2="418.20" y2="1435.60" stroke="#000" stroke-width="4.6" stroke-linecap="butt" />
<line x1="455.62" y1="1408.20" x2="455.62" y2="1423.70" stroke="#000" stroke-width="4.6" stroke-linecap="butt" />
<line x1="477.51" y1="1408.20" x2="477.51" y2="1423.70" stroke="#000" stroke-width="4.6" stroke-linecap="butt" />
<line x1="493.04" y1="1408.20" x2="493.04" y2="1423.70" stroke="#000" stroke-width="4.6" stroke-linecap="butt" />
<line x1="505.08" y1="1408.20" x2="505.08" y2="1423.70" stroke="#000" stroke-width="4.6" stroke-linecap="butt" />
<line x1="514.92" y1="1408.20" x2="514.92" y2="1423.70" stroke="#000" stroke-width="4.6" stroke-linecap="butt" />
<line x1="523.25" y1="1408.20" x2="523.25" y2="1423.70" stroke="#000" stroke-width="4.6" stroke-linecap="butt" />
<line x1="530.45" y1="1408.20" x2="530.45" y2="1423.70" stroke="#000" stroke-width="4.6" stroke-linecap="butt" />
<line x1="536.81" y1="1408.20" x2="536.81" y2="1423.70" stroke="#000" stroke-width="4.6" stroke-linecap="butt" />
<line x1="542.50" y1="1408.20" x2="542.50" y2="1435.60" stroke="#000" stroke-width="4.6" stroke-linecap="butt" />
<line x1="579.92" y1="1408.20" x2="579.92" y2="1423.70" stroke="#000" stroke-width="4.6" stroke-linecap="butt" />
<line x1="601.81" y1="1408.20" x2="601.81" y2="1423.70" stroke="#000" stroke-width="4.6" stroke-linecap="butt" />
<line x1="617.34" y1="1408.20" x2="617.34" y2="1423.70" stroke="#000" stroke-width="4.6" stroke-linecap="butt" />
<line x1="629.38" y1="1408.20" x2="629.38" y2="1423.70" stroke="#000" stroke-width="4.6" stroke-linecap="butt" />
<line x1="639.22" y1="1408.20" x2="639.22" y2="1423.70" stroke="#000" stroke-width="4.6" stroke-linecap="butt" />
<line x1="647.55" y1="1408.20" x2="647.55" y2="1423.70" stroke="#000" stroke-width="4.6" stroke-linecap="butt" />
<line x1="654.75" y1="1408.20" x2="654.75" y2="1423.70" stroke="#000" stroke-width="4.6" stroke-linecap="butt" />
<line x1="661.11" y1="1408.20" x2="661.11" y2="1423.70" stroke="#000" stroke-width="4.6" stroke-linecap="butt" />
<line x1="666.80" y1="1408.20" x2="666.80" y2="1435.60" stroke="#000" stroke-width="4.6" stroke-linecap="butt" />
<line x1="704.22" y1="1408.20" x2="704.22" y2="1423.70" stroke="#000" stroke-width="4.6" stroke-linecap="butt" />
<text transform="translate(217.30 1471.60) scale(1 1.04)" font-size="39.3" text-anchor="middle" font-weight="normal" font-style="normal" fill="#000" stroke="#000" stroke-width="0.6" >0</text>
<text transform="translate(263.70 1481.30) scale(1 1.04)" font-size="39.3" text-anchor="start" font-weight="normal" font-style="normal" fill="#000" stroke="#000" stroke-width="0.6" >10<tspan font-size="28.2" dy="-13.6">0</tspan></text>
<text transform="translate(388.00 1481.30) scale(1 1.04)" font-size="39.3" text-anchor="start" font-weight="normal" font-style="normal" fill="#000" stroke="#000" stroke-width="0.6" >10<tspan font-size="28.2" dy="-13.6">1</tspan></text>
<text transform="translate(512.30 1481.30) scale(1 1.04)" font-size="39.3" text-anchor="start" font-weight="normal" font-style="normal" fill="#000" stroke="#000" stroke-width="0.6" >10<tspan font-size="28.2" dy="-13.6">2</tspan></text>
<text transform="translate(636.60 1481.30) scale(1 1.04)" font-size="39.3" text-anchor="start" font-weight="normal" font-style="normal" fill="#000" stroke="#000" stroke-width="0.6" >10<tspan font-size="28.2" dy="-13.6">3</tspan></text>
<line x1="182.30" y1="1408.20" x2="203.70" y2="1408.20" stroke="#000" stroke-width="4.6" stroke-linecap="butt" />
<text transform="translate(115.20 1423.80) scale(1 1.04)" font-size="39.3" text-anchor="start" font-weight="normal" font-style="normal" fill="#000" stroke="#000" stroke-width="0.6" >10<tspan font-size="28.2" dy="-13.6">0</tspan></text>
<line x1="192.10" y1="1362.42" x2="203.70" y2="1362.42" stroke="#000" stroke-width="4.6" stroke-linecap="butt" />
<line x1="192.10" y1="1335.64" x2="203.70" y2="1335.64" stroke="#000" stroke-width="4.6" stroke-linecap="butt" />
<line x1="192.10" y1="1316.64" x2="203.70" y2="1316.64" stroke="#000" stroke-width="4.6" stroke-linecap="butt" />
<line x1="192.10" y1="1301.91" x2="203.70" y2="1301.91" stroke="#000" stroke-width="4.6" stroke-linecap="butt" />
<line x1="192.10" y1="1289.87" x2="203.70" y2="1289.87" stroke="#000" stroke-width="4.6" stroke-linecap="butt" />
<line x1="192.10" y1="1279.69" x2="203.70" y2="1279.69" stroke="#000" stroke-width="4.6" stroke-linecap="butt" />
<line x1="192.10" y1="1270.87" x2="203.70" y2="1270.87" stroke="#000" stroke-width="4.6" stroke-linecap="butt" />
<line x1="192.10" y1="1263.09" x2="203.70" y2="1263.09" stroke="#000" stroke-width="4.6" stroke-linecap="butt" />
<line x1="182.30" y1="1256.13" x2="203.70" y2="1256.13" stroke="#000" stroke-width="4.6" stroke-linecap="butt" />
<text transform="translate(115.20 1271.73) scale(1 1.04)" font-size="39.3" text-anchor="start" font-weight="normal" font-style="normal" fill="#000" stroke="#000" stroke-width="0.6" >10<tspan font-size="28.2" dy="-13.6">1</tspan></text>
<line x1="192.10" y1="1210.35" x2="203.70" y2="1210.35" stroke="#000" stroke-width="4.6" stroke-linecap="butt" />
<line x1="192.10" y1="1183.57" x2="203.70" y2="1183.57" stroke="#000" stroke-width="4.6" stroke-linecap="butt" />
<line x1="192.10" y1="1164.57" x2="203.70" y2="1164.57" stroke="#000" stroke-width="4.6" stroke-linecap="butt" />
<line x1="192.10" y1="1149.84" x2="203.70" y2="1149.84" stroke="#000" stroke-width="4.6" stroke-linecap="butt" />
<line x1="192.10" y1="1137.80" x2="203.70" y2="1137.80" stroke="#000" stroke-width="4.6" stroke-linecap="butt" />
<line x1="192.10" y1="1127.62" x2="203.70" y2="1127.62" stroke="#000" stroke-width="4.6" stroke-linecap="butt" />
<line x1="192.10" y1="1118.80" x2="203.70" y2="1118.80" stroke="#000" stroke-width="4.6" stroke-linecap="butt" />
<line x1="192.10" y1="1111.02" x2="203.70" y2="1111.02" stroke="#000" stroke-width="4.6" stroke-linecap="butt" />
<line x1="182.30" y1="1104.06" x2="203.70" y2="1104.06" stroke="#000" stroke-width="4.6" stroke-linecap="butt" />
<text transform="translate(115.20 1119.66) scale(1 1.04)" font-size="39.3" text-anchor="start" font-weight="normal" font-style="normal" fill="#000" stroke="#000" stroke-width="0.6" >10<tspan font-size="28.2" dy="-13.6">2</tspan></text>
<line x1="192.10" y1="1058.28" x2="203.70" y2="1058.28" stroke="#000" stroke-width="4.6" stroke-linecap="butt" />
<line x1="192.10" y1="1031.50" x2="203.70" y2="1031.50" stroke="#000" stroke-width="4.6" stroke-linecap="butt" />
<line x1="192.10" y1="1012.50" x2="203.70" y2="1012.50" stroke="#000" stroke-width="4.6" stroke-linecap="butt" />
<line x1="192.10" y1="997.77" x2="203.70" y2="997.77" stroke="#000" stroke-width="4.6" stroke-linecap="butt" />
<line x1="192.10" y1="985.73" x2="203.70" y2="985.73" stroke="#000" stroke-width="4.6" stroke-linecap="butt" />
<line x1="192.10" y1="975.55" x2="203.70" y2="975.55" stroke="#000" stroke-width="4.6" stroke-linecap="butt" />
<line x1="192.10" y1="966.73" x2="203.70" y2="966.73" stroke="#000" stroke-width="4.6" stroke-linecap="butt" />
<line x1="192.10" y1="958.95" x2="203.70" y2="958.95" stroke="#000" stroke-width="4.6" stroke-linecap="butt" />
<line x1="182.30" y1="951.99" x2="203.70" y2="951.99" stroke="#000" stroke-width="4.6" stroke-linecap="butt" />
<text transform="translate(115.20 967.59) scale(1 1.04)" font-size="39.3" text-anchor="start" font-weight="normal" font-style="normal" fill="#000" stroke="#000" stroke-width="0.6" >10<tspan font-size="28.2" dy="-13.6">3</tspan></text>
<line x1="192.10" y1="906.21" x2="203.70" y2="906.21" stroke="#000" stroke-width="4.6" stroke-linecap="butt" />
<line x1="704.80" y1="973.00" x2="732.20" y2="973.00" stroke="#000" stroke-width="4.6" stroke-linecap="butt" />
<text transform="translate(738.60 988.40) scale(1 1.04)" font-size="39.3" text-anchor="start" font-weight="normal" font-style="normal" fill="#000" stroke="#000" stroke-width="0.6" >10<tspan font-size="28.2" dy="-13.6">0</tspan></text>
<line x1="704.80" y1="1125.07" x2="732.20" y2="1125.07" stroke="#000" stroke-width="4.6" stroke-linecap="butt" />
<text transform="translate(738.60 1140.47) scale(1 1.04)" font-size="39.3" text-anchor="start" font-weight="normal" font-style="normal" fill="#000" stroke="#000" stroke-width="0.6" >10<tspan font-size="28.2" dy="-13.6">-1</tspan></text>
<line x1="704.80" y1="1277.14" x2="732.20" y2="1277.14" stroke="#000" stroke-width="4.6" stroke-linecap="butt" />
<text transform="translate(738.60 1292.54) scale(1 1.04)" font-size="39.3" text-anchor="start" font-weight="normal" font-style="normal" fill="#000" stroke="#000" stroke-width="0.6" >10<tspan font-size="28.2" dy="-13.6">-2</tspan></text>
<line x1="704.80" y1="927.22" x2="719.80" y2="927.22" stroke="#000" stroke-width="4.6" stroke-linecap="butt" />
<line x1="704.80" y1="1079.29" x2="719.80" y2="1079.29" stroke="#000" stroke-width="4.6" stroke-linecap="butt" />
<line x1="704.80" y1="1052.51" x2="719.80" y2="1052.51" stroke="#000" stroke-width="4.6" stroke-linecap="butt" />
<line x1="704.80" y1="1033.51" x2="719.80" y2="1033.51" stroke="#000" stroke-width="4.6" stroke-linecap="butt" />
<line x1="704.80" y1="1018.78" x2="719.80" y2="1018.78" stroke="#000" stroke-width="4.6" stroke-linecap="butt" />
<line x1="704.80" y1="1006.74" x2="719.80" y2="1006.74" stroke="#000" stroke-width="4.6" stroke-linecap="butt" />
<line x1="704.80" y1="996.56" x2="719.80" y2="996.56" stroke="#000" stroke-width="4.6" stroke-linecap="butt" />
<line x1="704.80" y1="987.74" x2="719.80" y2="987.74" stroke="#000" stroke-width="4.6" stroke-linecap="butt" />
<line x1="704.80" y1="979.96" x2="719.80" y2="979.96" stroke="#000" stroke-width="4.6" stroke-linecap="butt" />
<line x1="704.80" y1="1231.36" x2="719.80" y2="1231.36" stroke="#000" stroke-width="4.6" stroke-linecap="butt" />
<line x1="704.80" y1="1204.58" x2="719.80" y2="1204.58" stroke="#000" stroke-width="4.6" stroke-linecap="butt" />
<line x1="704.80" y1="1185.58" x2="719.80" y2="1185.58" stroke="#000" stroke-width="4.6" stroke-linecap="butt" />
<line x1="704.80" y1="1170.85" x2="719.80" y2="1170.85" stroke="#000" stroke-width="4.6" stroke-linecap="butt" />
<line x1="704.80" y1="1158.81" x2="719.80" y2="1158.81" stroke="#000" stroke-width="4.6" stroke-linecap="butt" />
<line x1="704.80" y1="1148.63" x2="719.80" y2="1148.63" stroke="#000" stroke-width="4.6" stroke-linecap="butt" />
<line x1="704.80" y1="1139.81" x2="719.80" y2="1139.81" stroke="#000" stroke-width="4.6" stroke-linecap="butt" />
<line x1="704.80" y1="1132.03" x2="719.80" y2="1132.03" stroke="#000" stroke-width="4.6" stroke-linecap="butt" />
<line x1="704.80" y1="1383.43" x2="719.80" y2="1383.43" stroke="#000" stroke-width="4.6" stroke-linecap="butt" />
<line x1="704.80" y1="1356.65" x2="719.80" y2="1356.65" stroke="#000" stroke-width="4.6" stroke-linecap="butt" />
<line x1="704.80" y1="1337.65" x2="719.80" y2="1337.65" stroke="#000" stroke-width="4.6" stroke-linecap="butt" />
<line x1="704.80" y1="1322.92" x2="719.80" y2="1322.92" stroke="#000" stroke-width="4.6" stroke-linecap="butt" />
<line x1="704.80" y1="1310.88" x2="719.80" y2="1310.88" stroke="#000" stroke-width="4.6" stroke-linecap="butt" />
<line x1="704.80" y1="1300.70" x2="719.80" y2="1300.70" stroke="#000" stroke-width="4.6" stroke-linecap="butt" />
<line x1="704.80" y1="1291.88" x2="719.80" y2="1291.88" stroke="#000" stroke-width="4.6" stroke-linecap="butt" />
<line x1="704.80" y1="1284.10" x2="719.80" y2="1284.10" stroke="#000" stroke-width="4.6" stroke-linecap="butt" />
<path d="M293.6 1226.2 C296.9 1225.9 305.7 1225.4 313.8 1224.5 C321.9 1223.7 332.7 1222.6 342.2 1221.1 C351.7 1219.6 361.2 1217.9 370.7 1215.4 C380.1 1213.0 389.6 1210.2 399.1 1206.3 C408.6 1202.5 418.1 1198.1 427.6 1192.4 C437.0 1186.6 446.5 1179.3 456.0 1171.9 C465.5 1164.5 475.0 1156.5 484.4 1147.7 C493.9 1139.0 503.4 1129.0 512.9 1119.3 C522.4 1109.6 531.8 1098.7 541.3 1089.4 C550.8 1080.2 560.3 1071.6 569.8 1063.8 C579.3 1056.0 588.7 1048.6 598.2 1042.5 C607.7 1036.3 617.2 1031.3 626.7 1026.8 C636.1 1022.4 648.4 1018.4 655.1 1016.0 C661.8 1013.7 664.8 1013.2 666.8 1012.6" fill="none" stroke="#f1aaa2" stroke-width="4.6" stroke-linecap="round" stroke-linejoin="round"/>
<path d="M217 1228 L251.2 1227.4" fill="none" stroke="#f1aaa2" stroke-width="4.6" stroke-linecap="round" stroke-linejoin="round"/>
<line x1="217.10" y1="1205.50" x2="217.10" y2="1265.20" stroke="#e45a45" stroke-width="4.6" stroke-linecap="butt" />
<line x1="204.70" y1="1205.50" x2="229.50" y2="1205.50" stroke="#e45a45" stroke-width="4.6" stroke-linecap="round" />
<line x1="204.70" y1="1265.20" x2="229.50" y2="1265.20" stroke="#e45a45" stroke-width="4.6" stroke-linecap="round" />
<line x1="293.60" y1="1175.90" x2="293.60" y2="1210.90" stroke="#e45a45" stroke-width="4.6" stroke-linecap="butt" />
<line x1="281.20" y1="1175.90" x2="306.00" y2="1175.90" stroke="#e45a45" stroke-width="4.6" stroke-linecap="round" />
<line x1="281.20" y1="1210.90" x2="306.00" y2="1210.90" stroke="#e45a45" stroke-width="4.6" stroke-linecap="round" />
<line x1="417.90" y1="1115.00" x2="417.90" y2="1152.60" stroke="#e45a45" stroke-width="4.6" stroke-linecap="butt" />
<line x1="405.50" y1="1115.00" x2="430.30" y2="1115.00" stroke="#e45a45" stroke-width="4.6" stroke-linecap="round" />
<line x1="405.50" y1="1152.60" x2="430.30" y2="1152.60" stroke="#e45a45" stroke-width="4.6" stroke-linecap="round" />
<line x1="467.40" y1="1158.50" x2="467.40" y2="1196.40" stroke="#e45a45" stroke-width="4.6" stroke-linecap="butt" />
<line x1="455.00" y1="1158.50" x2="479.80" y2="1158.50" stroke="#e45a45" stroke-width="4.6" stroke-linecap="round" />
<line x1="455.00" y1="1196.40" x2="479.80" y2="1196.40" stroke="#e45a45" stroke-width="4.6" stroke-linecap="round" />
<line x1="504.60" y1="1105.30" x2="504.60" y2="1171.90" stroke="#e45a45" stroke-width="4.6" stroke-linecap="butt" />
<line x1="492.20" y1="1105.30" x2="517.00" y2="1105.30" stroke="#e45a45" stroke-width="4.6" stroke-linecap="round" />
<line x1="492.20" y1="1171.90" x2="517.00" y2="1171.90" stroke="#e45a45" stroke-width="4.6" stroke-linecap="round" />
<line x1="542.20" y1="1061.50" x2="542.20" y2="1093.40" stroke="#e45a45" stroke-width="4.6" stroke-linecap="butt" />
<line x1="529.80" y1="1061.50" x2="554.60" y2="1061.50" stroke="#e45a45" stroke-width="4.6" stroke-linecap="round" />
<line x1="529.80" y1="1093.40" x2="554.60" y2="1093.40" stroke="#e45a45" stroke-width="4.6" stroke-linecap="round" />
<line x1="629.20" y1="1032.50" x2="629.20" y2="1061.00" stroke="#e45a45" stroke-width="4.6" stroke-linecap="butt" />
<line x1="616.80" y1="1032.50" x2="641.60" y2="1032.50" stroke="#e45a45" stroke-width="4.6" stroke-linecap="round" />
<line x1="616.80" y1="1061.00" x2="641.60" y2="1061.00" stroke="#e45a45" stroke-width="4.6" stroke-linecap="round" />
<line x1="666.80" y1="996.70" x2="666.80" y2="1010.10" stroke="#e45a45" stroke-width="4.6" stroke-linecap="butt" />
<line x1="654.40" y1="1010.10" x2="679.20" y2="1010.10" stroke="#e45a45" stroke-width="4.6" stroke-linecap="round" />
<circle cx="217.10" cy="1228.50" r="12.5" fill="#e45a45"/>
<circle cx="293.60" cy="1191.00" r="12.5" fill="#e45a45"/>
<circle cx="417.90" cy="1131.50" r="12.5" fill="#e45a45"/>
<circle cx="467.40" cy="1175.30" r="12.5" fill="#e45a45"/>
<circle cx="504.60" cy="1130.70" r="12.5" fill="#e45a45"/>
<circle cx="542.20" cy="1075.80" r="12.5" fill="#e45a45"/>
<circle cx="629.20" cy="1045.00" r="12.5" fill="#e45a45"/>
<circle cx="666.80" cy="996.70" r="12.5" fill="#e45a45"/>
<text transform="translate(38.00 1158.50) rotate(-90) scale(1 1.04)" font-size="40.7" text-anchor="middle" font-weight="normal" font-style="normal" fill="#000" stroke="#000" stroke-width="0.6" >Storage Modulus</text>
<text transform="translate(88.00 1158.50) rotate(-90) scale(1 1.04)" font-size="40.7" text-anchor="middle" font-weight="normal" font-style="normal" fill="#000" stroke="#000" stroke-width="0.6" >at 18 hours (Pa)</text>
<text transform="translate(873.00 1158.50) rotate(90) scale(1 1.04)" font-size="40.7" text-anchor="middle" font-weight="normal" font-style="normal" fill="#000" stroke="#000" stroke-width="0.6" >Normalized</text>
<text transform="translate(823.50 1158.50) rotate(90) scale(1 1.04)" font-size="40.7" text-anchor="middle" font-weight="normal" font-style="normal" fill="#000" stroke="#000" stroke-width="0.6" >Storage Modulus</text>
<text transform="translate(454.50 1540.00) scale(1 1.04)" font-size="40.7" text-anchor="middle" font-weight="normal" font-style="normal" fill="#000" stroke="#000" stroke-width="0.6" >[IPTG] (µM)</text>
<text transform="translate(71.30 887.00)" font-size="46" text-anchor="start" font-weight="bold" font-style="normal" fill="#1a1a1a" >c.</text>
<path d="M1357.50 1410.30 V907.40 H1857.70 V1410.30" fill="none" stroke="#000" stroke-width="4.6" stroke-linejoin="miter"/>
<line x1="1355.20" y1="1408.00" x2="1404.20" y2="1408.00" stroke="#000" stroke-width="4.6" stroke-linecap="butt" />
<line x1="1447.70" y1="1408.00" x2="1860.00" y2="1408.00" stroke="#000" stroke-width="4.6" stroke-linecap="butt" />
<line x1="1404.20" y1="1392.90" x2="1404.20" y2="1423.10" stroke="#000" stroke-width="4.6" stroke-linecap="butt" />
<line x1="1447.70" y1="1392.90" x2="1447.70" y2="1423.10" stroke="#000" stroke-width="4.6" stroke-linecap="butt" />
<line x1="1371.40" y1="1408.00" x2="1371.40" y2="1428.90" stroke="#000" stroke-width="4.6" stroke-linecap="butt" />
<line x1="1485.12" y1="1408.00" x2="1485.12" y2="1423.50" stroke="#000" stroke-width="4.6" stroke-linecap="butt" />
<line x1="1507.01" y1="1408.00" x2="1507.01" y2="1423.50" stroke="#000" stroke-width="4.6" stroke-linecap="butt" />
<line x1="1522.54" y1="1408.00" x2="1522.54" y2="1423.50" stroke="#000" stroke-width="4.6" stroke-linecap="butt" />
<line x1="1534.58" y1="1408.00" x2="1534.58" y2="1423.50" stroke="#000" stroke-width="4.6" stroke-linecap="butt" />
<line x1="1544.42" y1="1408.00" x2="1544.42" y2="1423.50" stroke="#000" stroke-width="4.6" stroke-linecap="butt" />
<line x1="1552.75" y1="1408.00" x2="1552.75" y2="1423.50" stroke="#000" stroke-width="4.6" stroke-linecap="butt" />
<line x1="1559.95" y1="1408.00" x2="1559.95" y2="1423.50" stroke="#000" stroke-width="4.6" stroke-linecap="butt" />
<line x1="1566.31" y1="1408.00" x2="1566.31" y2="1423.50" stroke="#000" stroke-width="4.6" stroke-linecap="butt" />
<line x1="1572.00" y1="1408.00" x2="1572.00" y2="1435.40" stroke="#000" stroke-width="4.6" stroke-linecap="butt" />
<line x1="1609.42" y1="1408.00" x2="1609.42" y2="1423.50" stroke="#000" stroke-width="4.6" stroke-linecap="butt" />
<line x1="1631.31" y1="1408.00" x2="1631.31" y2="1423.50" stroke="#000" stroke-width="4.6" stroke-linecap="butt" />
<line x1="1646.84" y1="1408.00" x2="1646.84" y2="1423.50" stroke="#000" stroke-width="4.6" stroke-linecap="butt" />
<line x1="1658.88" y1="1408.00" x2="1658.88" y2="1423.50" stroke="#000" stroke-width="4.6" stroke-linecap="butt" />
<line x1="1668.72" y1="1408.00" x2="1668.72" y2="1423.50" stroke="#000" stroke-width="4.6" stroke-linecap="butt" />
<line x1="1677.05" y1="1408.00" x2="1677.05" y2="1423.50" stroke="#000" stroke-width="4.6" stroke-linecap="butt" />
<line x1="1684.25" y1="1408.00" x2="1684.25" y2="1423.50" stroke="#000" stroke-width="4.6" stroke-linecap="butt" />
<line x1="1690.61" y1="1408.00" x2="1690.61" y2="1423.50" stroke="#000" stroke-width="4.6" stroke-linecap="butt" />
<line x1="1696.30" y1="1408.00" x2="1696.30" y2="1435.40" stroke="#000" stroke-width="4.6" stroke-linecap="butt" />
<line x1="1733.72" y1="1408.00" x2="1733.72" y2="1423.50" stroke="#000" stroke-width="4.6" stroke-linecap="butt" />
<line x1="1755.61" y1="1408.00" x2="1755.61" y2="1423.50" stroke="#000" stroke-width="4.6" stroke-linecap="butt" />
<line x1="1771.14" y1="1408.00" x2="1771.14" y2="1423.50" stroke="#000" stroke-width="4.6" stroke-linecap="butt" />
<line x1="1783.18" y1="1408.00" x2="1783.18" y2="1423.50" stroke="#000" stroke-width="4.6" stroke-linecap="butt" />
<line x1="1793.02" y1="1408.00" x2="1793.02" y2="1423.50" stroke="#000" stroke-width="4.6" stroke-linecap="butt" />
<line x1="1801.35" y1="1408.00" x2="1801.35" y2="1423.50" stroke="#000" stroke-width="4.6" stroke-linecap="butt" />
<line x1="1808.55" y1="1408.00" x2="1808.55" y2="1423.50" stroke="#000" stroke-width="4.6" stroke-linecap="butt" />
<line x1="1814.91" y1="1408.00" x2="1814.91" y2="1423.50" stroke="#000" stroke-width="4.6" stroke-linecap="butt" />
<line x1="1820.60" y1="1408.00" x2="1820.60" y2="1435.40" stroke="#000" stroke-width="4.6" stroke-linecap="butt" />
<line x1="1858.02" y1="1408.00" x2="1858.02" y2="1423.50" stroke="#000" stroke-width="4.6" stroke-linecap="butt" />
<text transform="translate(1371.10 1471.40) scale(1 1.04)" font-size="39.3" text-anchor="middle" font-weight="normal" font-style="normal" fill="#000" stroke="#000" stroke-width="0.6" >0</text>
<text transform="translate(1417.50 1481.10) scale(1 1.04)" font-size="39.3" text-anchor="start" font-weight="normal" font-style="normal" fill="#000" stroke="#000" stroke-width="0.6" >10<tspan font-size="28.2" dy="-13.6">0</tspan></text>
<text transform="translate(1541.80 1481.10) scale(1 1.04)" font-size="39.3" text-anchor="start" font-weight="normal" font-style="normal" fill="#000" stroke="#000" stroke-width="0.6" >10<tspan font-size="28.2" dy="-13.6">1</tspan></text>
<text transform="translate(1666.10 1481.10) scale(1 1.04)" font-size="39.3" text-anchor="start" font-weight="normal" font-style="normal" fill="#000" stroke="#000" stroke-width="0.6" >10<tspan font-size="28.2" dy="-13.6">2</tspan></text>
<text transform="translate(1790.40 1481.10) scale(1 1.04)" font-size="39.3" text-anchor="start" font-weight="normal" font-style="normal" fill="#000" stroke="#000" stroke-width="0.6" >10<tspan font-size="28.2" dy="-13.6">3</tspan></text>
<line x1="1336.10" y1="1408.00" x2="1357.50" y2="1408.00" stroke="#000" stroke-width="4.6" stroke-linecap="butt" />
<text transform="translate(1269.00 1423.60) scale(1 1.04)" font-size="39.3" text-anchor="start" font-weight="normal" font-style="normal" fill="#000" stroke="#000" stroke-width="0.6" >10<tspan font-size="28.2" dy="-13.6">0</tspan></text>
<line x1="1345.90" y1="1362.36" x2="1357.50" y2="1362.36" stroke="#000" stroke-width="4.6" stroke-linecap="butt" />
<line x1="1345.90" y1="1335.67" x2="1357.50" y2="1335.67" stroke="#000" stroke-width="4.6" stroke-linecap="butt" />
<line x1="1345.90" y1="1316.73" x2="1357.50" y2="1316.73" stroke="#000" stroke-width="4.6" stroke-linecap="butt" />
<line x1="1345.90" y1="1302.04" x2="1357.50" y2="1302.04" stroke="#000" stroke-width="4.6" stroke-linecap="butt" />
<line x1="1345.90" y1="1290.03" x2="1357.50" y2="1290.03" stroke="#000" stroke-width="4.6" stroke-linecap="butt" />
<line x1="1345.90" y1="1279.88" x2="1357.50" y2="1279.88" stroke="#000" stroke-width="4.6" stroke-linecap="butt" />
<line x1="1345.90" y1="1271.09" x2="1357.50" y2="1271.09" stroke="#000" stroke-width="4.6" stroke-linecap="butt" />
<line x1="1345.90" y1="1263.34" x2="1357.50" y2="1263.34" stroke="#000" stroke-width="4.6" stroke-linecap="butt" />
<line x1="1336.10" y1="1256.40" x2="1357.50" y2="1256.40" stroke="#000" stroke-width="4.6" stroke-linecap="butt" />
<text transform="translate(1269.00 1272.00) scale(1 1.04)" font-size="39.3" text-anchor="start" font-weight="normal" font-style="normal" fill="#000" stroke="#000" stroke-width="0.6" >10<tspan font-size="28.2" dy="-13.6">1</tspan></text>
<line x1="1345.90" y1="1210.76" x2="1357.50" y2="1210.76" stroke="#000" stroke-width="4.6" stroke-linecap="butt" />
<line x1="1345.90" y1="1184.07" x2="1357.50" y2="1184.07" stroke="#000" stroke-width="4.6" stroke-linecap="butt" />
<line x1="1345.90" y1="1165.13" x2="1357.50" y2="1165.13" stroke="#000" stroke-width="4.6" stroke-linecap="butt" />
<line x1="1345.90" y1="1150.44" x2="1357.50" y2="1150.44" stroke="#000" stroke-width="4.6" stroke-linecap="butt" />
<line x1="1345.90" y1="1138.43" x2="1357.50" y2="1138.43" stroke="#000" stroke-width="4.6" stroke-linecap="butt" />
<line x1="1345.90" y1="1128.28" x2="1357.50" y2="1128.28" stroke="#000" stroke-width="4.6" stroke-linecap="butt" />
<line x1="1345.90" y1="1119.49" x2="1357.50" y2="1119.49" stroke="#000" stroke-width="4.6" stroke-linecap="butt" />
<line x1="1345.90" y1="1111.74" x2="1357.50" y2="1111.74" stroke="#000" stroke-width="4.6" stroke-linecap="butt" />
<line x1="1336.10" y1="1104.80" x2="1357.50" y2="1104.80" stroke="#000" stroke-width="4.6" stroke-linecap="butt" />
<text transform="translate(1269.00 1120.40) scale(1 1.04)" font-size="39.3" text-anchor="start" font-weight="normal" font-style="normal" fill="#000" stroke="#000" stroke-width="0.6" >10<tspan font-size="28.2" dy="-13.6">2</tspan></text>
<line x1="1345.90" y1="1059.16" x2="1357.50" y2="1059.16" stroke="#000" stroke-width="4.6" stroke-linecap="butt" />
<line x1="1345.90" y1="1032.47" x2="1357.50" y2="1032.47" stroke="#000" stroke-width="4.6" stroke-linecap="butt" />
<line x1="1345.90" y1="1013.53" x2="1357.50" y2="1013.53" stroke="#000" stroke-width="4.6" stroke-linecap="butt" />
<line x1="1345.90" y1="998.84" x2="1357.50" y2="998.84" stroke="#000" stroke-width="4.6" stroke-linecap="butt" />
<line x1="1345.90" y1="986.83" x2="1357.50" y2="986.83" stroke="#000" stroke-width="4.6" stroke-linecap="butt" />
<line x1="1345.90" y1="976.68" x2="1357.50" y2="976.68" stroke="#000" stroke-width="4.6" stroke-linecap="butt" />
<line x1="1345.90" y1="967.89" x2="1357.50" y2="967.89" stroke="#000" stroke-width="4.6" stroke-linecap="butt" />
<line x1="1345.90" y1="960.14" x2="1357.50" y2="960.14" stroke="#000" stroke-width="4.6" stroke-linecap="butt" />
<line x1="1336.10" y1="953.20" x2="1357.50" y2="953.20" stroke="#000" stroke-width="4.6" stroke-linecap="butt" />
<text transform="translate(1269.00 968.80) scale(1 1.04)" font-size="39.3" text-anchor="start" font-weight="normal" font-style="normal" fill="#000" stroke="#000" stroke-width="0.6" >10<tspan font-size="28.2" dy="-13.6">3</tspan></text>
<line x1="1345.90" y1="907.56" x2="1357.50" y2="907.56" stroke="#000" stroke-width="4.6" stroke-linecap="butt" />
<line x1="1857.70" y1="973.80" x2="1885.10" y2="973.80" stroke="#000" stroke-width="4.6" stroke-linecap="butt" />
<text transform="translate(1891.50 989.20) scale(1 1.04)" font-size="39.3" text-anchor="start" font-weight="normal" font-style="normal" fill="#000" stroke="#000" stroke-width="0.6" >10<tspan font-size="28.2" dy="-13.6">0</tspan></text>
<line x1="1857.70" y1="1125.40" x2="1885.10" y2="1125.40" stroke="#000" stroke-width="4.6" stroke-linecap="butt" />
<text transform="translate(1891.50 1140.80) scale(1 1.04)" font-size="39.3" text-anchor="start" font-weight="normal" font-style="normal" fill="#000" stroke="#000" stroke-width="0.6" >10<tspan font-size="28.2" dy="-13.6">-1</tspan></text>
<line x1="1857.70" y1="1277.00" x2="1885.10" y2="1277.00" stroke="#000" stroke-width="4.6" stroke-linecap="butt" />
<text transform="translate(1891.50 1292.40) scale(1 1.04)" font-size="39.3" text-anchor="start" font-weight="normal" font-style="normal" fill="#000" stroke="#000" stroke-width="0.6" >10<tspan font-size="28.2" dy="-13.6">-2</tspan></text>
<line x1="1857.70" y1="928.16" x2="1872.70" y2="928.16" stroke="#000" stroke-width="4.6" stroke-linecap="butt" />
<line x1="1857.70" y1="1079.76" x2="1872.70" y2="1079.76" stroke="#000" stroke-width="4.6" stroke-linecap="butt" />
<line x1="1857.70" y1="1053.07" x2="1872.70" y2="1053.07" stroke="#000" stroke-width="4.6" stroke-linecap="butt" />
<line x1="1857.70" y1="1034.13" x2="1872.70" y2="1034.13" stroke="#000" stroke-width="4.6" stroke-linecap="butt" />
<line x1="1857.70" y1="1019.44" x2="1872.70" y2="1019.44" stroke="#000" stroke-width="4.6" stroke-linecap="butt" />
<line x1="1857.70" y1="1007.43" x2="1872.70" y2="1007.43" stroke="#000" stroke-width="4.6" stroke-linecap="butt" />
<line x1="1857.70" y1="997.28" x2="1872.70" y2="997.28" stroke="#000" stroke-width="4.6" stroke-linecap="butt" />
<line x1="1857.70" y1="988.49" x2="1872.70" y2="988.49" stroke="#000" stroke-width="4.6" stroke-linecap="butt" />
<line x1="1857.70" y1="980.74" x2="1872.70" y2="980.74" stroke="#000" stroke-width="4.6" stroke-linecap="butt" />
<line x1="1857.70" y1="1231.36" x2="1872.70" y2="1231.36" stroke="#000" stroke-width="4.6" stroke-linecap="butt" />
<line x1="1857.70" y1="1204.67" x2="1872.70" y2="1204.67" stroke="#000" stroke-width="4.6" stroke-linecap="butt" />
<line x1="1857.70" y1="1185.73" x2="1872.70" y2="1185.73" stroke="#000" stroke-width="4.6" stroke-linecap="butt" />
<line x1="1857.70" y1="1171.04" x2="1872.70" y2="1171.04" stroke="#000" stroke-width="4.6" stroke-linecap="butt" />
<line x1="1857.70" y1="1159.03" x2="1872.70" y2="1159.03" stroke="#000" stroke-width="4.6" stroke-linecap="butt" />
<line x1="1857.70" y1="1148.88" x2="1872.70" y2="1148.88" stroke="#000" stroke-width="4.6" stroke-linecap="butt" />
<line x1="1857.70" y1="1140.09" x2="1872.70" y2="1140.09" stroke="#000" stroke-width="4.6" stroke-linecap="butt" />
<line x1="1857.70" y1="1132.34" x2="1872.70" y2="1132.34" stroke="#000" stroke-width="4.6" stroke-linecap="butt" />
<line x1="1857.70" y1="1382.96" x2="1872.70" y2="1382.96" stroke="#000" stroke-width="4.6" stroke-linecap="butt" />
<line x1="1857.70" y1="1356.27" x2="1872.70" y2="1356.27" stroke="#000" stroke-width="4.6" stroke-linecap="butt" />
<line x1="1857.70" y1="1337.33" x2="1872.70" y2="1337.33" stroke="#000" stroke-width="4.6" stroke-linecap="butt" />
<line x1="1857.70" y1="1322.64" x2="1872.70" y2="1322.64" stroke="#000" stroke-width="4.6" stroke-linecap="butt" />
<line x1="1857.70" y1="1310.63" x2="1872.70" y2="1310.63" stroke="#000" stroke-width="4.6" stroke-linecap="butt" />
<line x1="1857.70" y1="1300.48" x2="1872.70" y2="1300.48" stroke="#000" stroke-width="4.6" stroke-linecap="butt" />
<line x1="1857.70" y1="1291.69" x2="1872.70" y2="1291.69" stroke="#000" stroke-width="4.6" stroke-linecap="butt" />
<line x1="1857.70" y1="1283.94" x2="1872.70" y2="1283.94" stroke="#000" stroke-width="4.6" stroke-linecap="butt" />
<path d="M1447.4 1224.8 C1451.0 1224.4 1460.5 1223.4 1468.8 1222.0 C1477.1 1220.6 1487.7 1218.7 1497.2 1216.3 C1506.7 1213.9 1516.2 1211.1 1525.7 1207.8 C1535.1 1204.5 1544.6 1200.9 1554.1 1196.4 C1563.6 1191.9 1573.1 1186.7 1582.6 1180.8 C1592.0 1174.8 1601.5 1167.7 1611.0 1160.8 C1620.5 1154.0 1630.0 1146.4 1639.4 1139.5 C1648.9 1132.6 1658.4 1125.5 1667.9 1119.6 C1677.4 1113.7 1686.8 1108.5 1696.3 1104.0 C1705.8 1099.5 1715.3 1095.9 1724.8 1092.6 C1734.3 1089.3 1743.7 1086.3 1753.2 1084.0 C1762.7 1081.8 1770.6 1080.3 1781.7 1078.9 C1792.8 1077.5 1813.4 1076.1 1819.8 1075.5" fill="none" stroke="#a6b6d6" stroke-width="4.6" stroke-linecap="round" stroke-linejoin="round"/>
<path d="M1371 1227.7 L1405.6 1226.5" fill="none" stroke="#a6b6d6" stroke-width="4.6" stroke-linecap="round" stroke-linejoin="round"/>
<line x1="1371.50" y1="1203.80" x2="1371.50" y2="1268.90" stroke="#4a6aa8" stroke-width="4.6" stroke-linecap="butt" />
<line x1="1359.10" y1="1203.80" x2="1383.90" y2="1203.80" stroke="#4a6aa8" stroke-width="4.6" stroke-linecap="round" />
<line x1="1359.10" y1="1268.90" x2="1383.90" y2="1268.90" stroke="#4a6aa8" stroke-width="4.6" stroke-linecap="round" />
<line x1="1447.40" y1="1171.60" x2="1447.40" y2="1238.50" stroke="#4a6aa8" stroke-width="4.6" stroke-linecap="butt" />
<line x1="1435.00" y1="1171.60" x2="1459.80" y2="1171.60" stroke="#4a6aa8" stroke-width="4.6" stroke-linecap="round" />
<line x1="1435.00" y1="1238.50" x2="1459.80" y2="1238.50" stroke="#4a6aa8" stroke-width="4.6" stroke-linecap="round" />
<line x1="1571.20" y1="1252.10" x2="1571.20" y2="1352.30" stroke="#4a6aa8" stroke-width="4.6" stroke-linecap="butt" />
<line x1="1558.80" y1="1252.10" x2="1583.60" y2="1252.10" stroke="#4a6aa8" stroke-width="4.6" stroke-linecap="round" />
<line x1="1558.80" y1="1352.30" x2="1583.60" y2="1352.30" stroke="#4a6aa8" stroke-width="4.6" stroke-linecap="round" />
<line x1="1621.00" y1="1132.40" x2="1621.00" y2="1202.10" stroke="#4a6aa8" stroke-width="4.6" stroke-linecap="butt" />
<line x1="1608.60" y1="1132.40" x2="1633.40" y2="1132.40" stroke="#4a6aa8" stroke-width="4.6" stroke-linecap="round" />
<line x1="1608.60" y1="1202.10" x2="1633.40" y2="1202.10" stroke="#4a6aa8" stroke-width="4.6" stroke-linecap="round" />
<line x1="1657.90" y1="1083.80" x2="1657.90" y2="1116.80" stroke="#4a6aa8" stroke-width="4.6" stroke-linecap="butt" />
<line x1="1645.50" y1="1083.80" x2="1670.30" y2="1083.80" stroke="#4a6aa8" stroke-width="4.6" stroke-linecap="round" />
<line x1="1645.50" y1="1116.80" x2="1670.30" y2="1116.80" stroke="#4a6aa8" stroke-width="4.6" stroke-linecap="round" />
<line x1="1695.50" y1="1117.60" x2="1695.50" y2="1161.70" stroke="#4a6aa8" stroke-width="4.6" stroke-linecap="butt" />
<line x1="1683.10" y1="1117.60" x2="1707.90" y2="1117.60" stroke="#4a6aa8" stroke-width="4.6" stroke-linecap="round" />
<line x1="1683.10" y1="1161.70" x2="1707.90" y2="1161.70" stroke="#4a6aa8" stroke-width="4.6" stroke-linecap="round" />
<line x1="1782.50" y1="1074.70" x2="1782.50" y2="1086.90" stroke="#4a6aa8" stroke-width="4.6" stroke-linecap="butt" />
<line x1="1770.10" y1="1086.90" x2="1794.90" y2="1086.90" stroke="#4a6aa8" stroke-width="4.6" stroke-linecap="round" />
<line x1="1819.80" y1="1072.40" x2="1819.80" y2="1086.90" stroke="#4a6aa8" stroke-width="4.6" stroke-linecap="butt" />
<line x1="1807.40" y1="1086.90" x2="1832.20" y2="1086.90" stroke="#4a6aa8" stroke-width="4.6" stroke-linecap="round" />
<circle cx="1371.50" cy="1228.30" r="12.5" fill="#4a6aa8"/>
<circle cx="1447.40" cy="1197.00" r="12.5" fill="#4a6aa8"/>
<circle cx="1571.20" cy="1284.90" r="12.5" fill="#4a6aa8"/>
<circle cx="1621.00" cy="1158.90" r="12.5" fill="#4a6aa8"/>
<circle cx="1657.90" cy="1098.50" r="12.5" fill="#4a6aa8"/>
<circle cx="1695.50" cy="1135.80" r="12.5" fill="#4a6aa8"/>
<circle cx="1782.50" cy="1074.70" r="12.5" fill="#4a6aa8"/>
<circle cx="1819.80" cy="1072.40" r="12.5" fill="#4a6aa8"/>
<text transform="translate(1191.80 1158.90) rotate(-90) scale(1 1.04)" font-size="40.7" text-anchor="middle" font-weight="normal" font-style="normal" fill="#000" stroke="#000" stroke-width="0.6" >Storage Modulus</text>
<text transform="translate(1241.80 1158.90) rotate(-90) scale(1 1.04)" font-size="40.7" text-anchor="middle" font-weight="normal" font-style="normal" fill="#000" stroke="#000" stroke-width="0.6" >at 8 hours (Pa)</text>
<text transform="translate(2041.30 1158.90) rotate(90) scale(1 1.04)" font-size="40.7" text-anchor="middle" font-weight="normal" font-style="normal" fill="#000" stroke="#000" stroke-width="0.6" >Normalized</text>
<text transform="translate(1990.60 1158.90) rotate(90) scale(1 1.04)" font-size="40.7" text-anchor="middle" font-weight="normal" font-style="normal" fill="#000" stroke="#000" stroke-width="0.6" >Storage Modulus</text>
<text transform="translate(1608.30 1539.80) scale(1 1.04)" font-size="40.7" text-anchor="middle" font-weight="normal" font-style="normal" fill="#000" stroke="#000" stroke-width="0.6" >[IPTG] (µM)</text>
<text transform="translate(1265.00 883.00)" font-size="46" text-anchor="start" font-weight="bold" font-style="normal" fill="#1a1a1a" >d.</text>
<rect x="203.50" y="1649.10" width="166.87" height="166.90" fill="#f4ebf1"/>
<rect x="370.37" y="1649.10" width="166.87" height="166.90" fill="#c8090f"/>
<rect x="537.24" y="1649.10" width="166.87" height="166.90" fill="#dd777d"/>
<rect x="203.50" y="1816.00" width="166.87" height="166.90" fill="#f4ebf1"/>
<rect x="370.37" y="1816.00" width="166.87" height="166.90" fill="#f5f3f9"/>
<rect x="537.24" y="1816.00" width="166.87" height="166.90" fill="#d54a50"/>
<rect x="203.50" y="1982.90" width="166.87" height="166.90" fill="#f4ebf1"/>
<rect x="370.37" y="1982.90" width="166.87" height="166.90" fill="#f1dce2"/>
<rect x="537.24" y="1982.90" width="166.87" height="166.90" fill="#dc7379"/>
<line x1="370.37" y1="1649.10" x2="370.37" y2="2149.80" stroke="#000" stroke-width="4.7" stroke-linecap="butt" />
<line x1="537.24" y1="1649.10" x2="537.24" y2="2149.80" stroke="#000" stroke-width="4.7" stroke-linecap="butt" />
<line x1="203.50" y1="1816.00" x2="704.11" y2="1816.00" stroke="#000" stroke-width="4.7" stroke-linecap="butt" />
<line x1="203.50" y1="1982.90" x2="704.11" y2="1982.90" stroke="#000" stroke-width="4.7" stroke-linecap="butt" />
<rect x="203.50" y="1649.10" width="500.61" height="500.70" fill="none" stroke="#000" stroke-width="4.7"/>
<line x1="201.15" y1="2151.70" x2="706.46" y2="2151.70" stroke="#000" stroke-width="4.7" stroke-linecap="butt" />
<text transform="translate(286.94 1741.35) scale(1 1.04)" font-size="28.3" text-anchor="middle" font-weight="normal" font-style="normal" fill="#000" stroke="#000" stroke-width="0.55" >0</text>
<text transform="translate(453.81 1741.35) scale(1 1.04)" font-size="28.3" text-anchor="middle" font-weight="normal" font-style="normal" fill="#fff" stroke="#fff" stroke-width="0.55" >349</text>
<text transform="translate(620.67 1741.35) scale(1 1.04)" font-size="28.3" text-anchor="middle" font-weight="normal" font-style="normal" fill="#000" stroke="#000" stroke-width="0.55" >179</text>
<text transform="translate(286.94 1908.25) scale(1 1.04)" font-size="28.3" text-anchor="middle" font-weight="normal" font-style="normal" fill="#000" stroke="#000" stroke-width="0.55" >0</text>
<text transform="translate(453.81 1908.25) scale(1 1.04)" font-size="28.3" text-anchor="middle" font-weight="normal" font-style="normal" fill="#000" stroke="#000" stroke-width="0.55" >-12</text>
<text transform="translate(620.67 1908.25) scale(1 1.04)" font-size="28.3" text-anchor="middle" font-weight="normal" font-style="normal" fill="#000" stroke="#000" stroke-width="0.55" >248</text>
<text transform="translate(286.94 2075.15) scale(1 1.04)" font-size="28.3" text-anchor="middle" font-weight="normal" font-style="normal" fill="#000" stroke="#000" stroke-width="0.55" >0</text>
<text transform="translate(453.81 2075.15) scale(1 1.04)" font-size="28.3" text-anchor="middle" font-weight="normal" font-style="normal" fill="#000" stroke="#000" stroke-width="0.55" >23</text>
<text transform="translate(620.67 2075.15) scale(1 1.04)" font-size="28.3" text-anchor="middle" font-weight="normal" font-style="normal" fill="#000" stroke="#000" stroke-width="0.55" >185</text>
<line x1="181.80" y1="1732.55" x2="203.50" y2="1732.55" stroke="#000" stroke-width="4.7" stroke-linecap="butt" />
<text transform="translate(174.50 1745.85) scale(1 1.04)" font-size="38.6" text-anchor="end" font-weight="normal" font-style="normal" fill="#000" stroke="#000" stroke-width="0.6" >18 h</text>
<line x1="181.80" y1="1899.45" x2="203.50" y2="1899.45" stroke="#000" stroke-width="4.7" stroke-linecap="butt" />
<text transform="translate(174.50 1912.75) scale(1 1.04)" font-size="38.6" text-anchor="end" font-weight="normal" font-style="normal" fill="#000" stroke="#000" stroke-width="0.6" >10 h</text>
<line x1="181.80" y1="2066.35" x2="203.50" y2="2066.35" stroke="#000" stroke-width="4.7" stroke-linecap="butt" />
<text transform="translate(174.50 2079.65) scale(1 1.04)" font-size="38.6" text-anchor="end" font-weight="normal" font-style="normal" fill="#000" stroke="#000" stroke-width="0.6" >6 h</text>
<line x1="286.94" y1="2149.80" x2="286.94" y2="2170.80" stroke="#000" stroke-width="4.7" stroke-linecap="butt" />
<text transform="translate(291.94 2205.80) rotate(-45) scale(1 1.04)" font-size="38.1" text-anchor="end" font-weight="normal" font-style="normal" fill="#000" stroke="#000" stroke-width="0.6" >OD<tspan font-size="27.4" dy="9">600</tspan><tspan dy="-9"> = 0.01</tspan></text>
<line x1="453.81" y1="2149.80" x2="453.81" y2="2170.80" stroke="#000" stroke-width="4.7" stroke-linecap="butt" />
<text transform="translate(458.81 2205.80) rotate(-45) scale(1 1.04)" font-size="38.1" text-anchor="end" font-weight="normal" font-style="normal" fill="#000" stroke="#000" stroke-width="0.6" >OD<tspan font-size="27.4" dy="9">600</tspan><tspan dy="-9"> = 0.04</tspan></text>
<line x1="620.67" y1="2149.80" x2="620.67" y2="2170.80" stroke="#000" stroke-width="4.7" stroke-linecap="butt" />
<text transform="translate(625.67 2205.80) rotate(-45) scale(1 1.04)" font-size="38.1" text-anchor="end" font-weight="normal" font-style="normal" fill="#000" stroke="#000" stroke-width="0.6" >OD<tspan font-size="27.4" dy="9">600</tspan><tspan dy="-9"> = 0.1</tspan></text>
<defs><linearGradient id="g1" x1="0" y1="0" x2="0" y2="1"><stop offset="0" stop-color="#c8090f"/><stop offset="1" stop-color="#f5f3f9"/></linearGradient></defs>
<rect x="718.50" y="1649.10" width="62.80" height="500.70" fill="url(#g1)" stroke="#000" stroke-width="4.7"/>
<line x1="718.50" y1="1718.00" x2="730.50" y2="1718.00" stroke="#000" stroke-width="4.7" stroke-linecap="butt" />
<line x1="769.30" y1="1718.00" x2="781.30" y2="1718.00" stroke="#000" stroke-width="4.7" stroke-linecap="butt" />
<text transform="translate(803.30 1731.00) scale(1 1.04)" font-size="40.2" text-anchor="start" font-weight="normal" font-style="normal" fill="#000" stroke="#000" stroke-width="0.6" >300</text>
<line x1="718.50" y1="1856.50" x2="730.50" y2="1856.50" stroke="#000" stroke-width="4.7" stroke-linecap="butt" />
<line x1="769.30" y1="1856.50" x2="781.30" y2="1856.50" stroke="#000" stroke-width="4.7" stroke-linecap="butt" />
<text transform="translate(803.30 1869.50) scale(1 1.04)" font-size="40.2" text-anchor="start" font-weight="normal" font-style="normal" fill="#000" stroke="#000" stroke-width="0.6" >200</text>
<line x1="718.50" y1="1995.00" x2="730.50" y2="1995.00" stroke="#000" stroke-width="4.7" stroke-linecap="butt" />
<line x1="769.30" y1="1995.00" x2="781.30" y2="1995.00" stroke="#000" stroke-width="4.7" stroke-linecap="butt" />
<text transform="translate(803.30 2008.00) scale(1 1.04)" font-size="40.2" text-anchor="start" font-weight="normal" font-style="normal" fill="#000" stroke="#000" stroke-width="0.6" >100</text>
<line x1="718.50" y1="2133.50" x2="730.50" y2="2133.50" stroke="#000" stroke-width="4.7" stroke-linecap="butt" />
<line x1="769.30" y1="2133.50" x2="781.30" y2="2133.50" stroke="#000" stroke-width="4.7" stroke-linecap="butt" />
<text transform="translate(803.30 2146.50) scale(1 1.04)" font-size="40.2" text-anchor="start" font-weight="normal" font-style="normal" fill="#000" stroke="#000" stroke-width="0.6" >0</text>
<text transform="translate(952.20 1899.50) rotate(90) scale(1 1.04)" font-size="40.7" text-anchor="middle" font-weight="normal" font-style="normal" fill="#000" stroke="#000" stroke-width="0.6" >ΔG’ [Pa]</text>
<text transform="translate(902.00 1899.50) rotate(90) scale(1 1.04)" font-size="40.7" text-anchor="middle" font-weight="normal" font-style="normal" fill="#000" stroke="#000" stroke-width="0.6" >(Induced – Uninduced)</text>
<text transform="translate(70.80 1620.80)" font-size="46" text-anchor="start" font-weight="bold" font-style="normal" fill="#1a1a1a" >e.</text>
<rect x="1357.40" y="1650.00" width="155.20" height="154.90" fill="#7c93bd"/>
<rect x="1512.60" y="1650.00" width="155.20" height="154.90" fill="#6e88b7"/>
<rect x="1667.80" y="1650.00" width="155.20" height="154.90" fill="#c9d1e3"/>
<rect x="1357.40" y="1804.90" width="155.20" height="154.90" fill="#b9c5db"/>
<rect x="1512.60" y="1804.90" width="155.20" height="154.90" fill="#4a6ba5"/>
<rect x="1667.80" y="1804.90" width="155.20" height="154.90" fill="#f4f4f8"/>
<rect x="1357.40" y="1959.80" width="155.20" height="154.90" fill="#bfc9de"/>
<rect x="1512.60" y="1959.80" width="155.20" height="154.90" fill="#4668a3"/>
<rect x="1667.80" y="1959.80" width="155.20" height="154.90" fill="#9badcd"/>
<rect x="1357.40" y="2114.70" width="155.20" height="154.90" fill="#bfc9de"/>
<rect x="1512.60" y="2114.70" width="155.20" height="154.90" fill="#5977ac"/>
<rect x="1667.80" y="2114.70" width="155.20" height="154.90" fill="#5876ac"/>
<line x1="1512.60" y1="1650.00" x2="1512.60" y2="2269.60" stroke="#000" stroke-width="4.6" stroke-linecap="butt" />
<line x1="1667.80" y1="1650.00" x2="1667.80" y2="2269.60" stroke="#000" stroke-width="4.6" stroke-linecap="butt" />
<line x1="1357.40" y1="1804.90" x2="1823.00" y2="1804.90" stroke="#000" stroke-width="4.6" stroke-linecap="butt" />
<line x1="1357.40" y1="1959.80" x2="1823.00" y2="1959.80" stroke="#000" stroke-width="4.6" stroke-linecap="butt" />
<line x1="1357.40" y1="2114.70" x2="1823.00" y2="2114.70" stroke="#000" stroke-width="4.6" stroke-linecap="butt" />
<rect x="1357.40" y="1650.00" width="465.60" height="619.60" fill="none" stroke="#000" stroke-width="4.6"/>
<line x1="1355.10" y1="2272.00" x2="1825.30" y2="2272.00" stroke="#000" stroke-width="4.6" stroke-linecap="butt" />
<text transform="translate(1435.00 1735.95) scale(1 1.04)" font-size="26.375600000000002" text-anchor="middle" font-weight="normal" font-style="normal" fill="#000" stroke="#000" stroke-width="0.55" >1694</text>
<text transform="translate(1590.20 1735.95) scale(1 1.04)" font-size="26.375600000000002" text-anchor="middle" font-weight="normal" font-style="normal" fill="#000" stroke="#000" stroke-width="0.55" >2038</text>
<text transform="translate(1745.40 1735.95) scale(1 1.04)" font-size="26.375600000000002" text-anchor="middle" font-weight="normal" font-style="normal" fill="#000" stroke="#000" stroke-width="0.55" >-253</text>
<text transform="translate(1435.00 1890.85) scale(1 1.04)" font-size="26.375600000000002" text-anchor="middle" font-weight="normal" font-style="normal" fill="#000" stroke="#000" stroke-width="0.55" >139</text>
<text transform="translate(1590.20 1890.85) scale(1 1.04)" font-size="26.375600000000002" text-anchor="middle" font-weight="normal" font-style="normal" fill="#fff" stroke="#fff" stroke-width="0.55" >2953</text>
<text transform="translate(1745.40 1890.85) scale(1 1.04)" font-size="26.375600000000002" text-anchor="middle" font-weight="normal" font-style="normal" fill="#000" stroke="#000" stroke-width="0.55" >-1350</text>
<text transform="translate(1435.00 2045.75) scale(1 1.04)" font-size="26.375600000000002" text-anchor="middle" font-weight="normal" font-style="normal" fill="#000" stroke="#000" stroke-width="0.55" >0</text>
<text transform="translate(1590.20 2045.75) scale(1 1.04)" font-size="26.375600000000002" text-anchor="middle" font-weight="normal" font-style="normal" fill="#fff" stroke="#fff" stroke-width="0.55" >3059</text>
<text transform="translate(1745.40 2045.75) scale(1 1.04)" font-size="26.375600000000002" text-anchor="middle" font-weight="normal" font-style="normal" fill="#000" stroke="#000" stroke-width="0.55" >893</text>
<text transform="translate(1435.00 2200.65) scale(1 1.04)" font-size="26.375600000000002" text-anchor="middle" font-weight="normal" font-style="normal" fill="#000" stroke="#000" stroke-width="0.55" >0</text>
<text transform="translate(1590.20 2200.65) scale(1 1.04)" font-size="26.375600000000002" text-anchor="middle" font-weight="normal" font-style="normal" fill="#000" stroke="#000" stroke-width="0.55" >2586</text>
<text transform="translate(1745.40 2200.65) scale(1 1.04)" font-size="26.375600000000002" text-anchor="middle" font-weight="normal" font-style="normal" fill="#000" stroke="#000" stroke-width="0.55" >2615</text>
<line x1="1337.70" y1="1727.45" x2="1357.40" y2="1727.45" stroke="#000" stroke-width="4.6" stroke-linecap="butt" />
<text transform="translate(1330.40 1739.85) scale(1 1.04)" font-size="36.0" text-anchor="end" font-weight="normal" font-style="normal" fill="#000" stroke="#000" stroke-width="0.6" >18 h</text>
<line x1="1337.70" y1="1882.35" x2="1357.40" y2="1882.35" stroke="#000" stroke-width="4.6" stroke-linecap="butt" />
<text transform="translate(1330.40 1894.75) scale(1 1.04)" font-size="36.0" text-anchor="end" font-weight="normal" font-style="normal" fill="#000" stroke="#000" stroke-width="0.6" >12 h</text>
<line x1="1337.70" y1="2037.25" x2="1357.40" y2="2037.25" stroke="#000" stroke-width="4.6" stroke-linecap="butt" />
<text transform="translate(1330.40 2049.65) scale(1 1.04)" font-size="36.0" text-anchor="end" font-weight="normal" font-style="normal" fill="#000" stroke="#000" stroke-width="0.6" >8 h</text>
<line x1="1337.70" y1="2192.15" x2="1357.40" y2="2192.15" stroke="#000" stroke-width="4.6" stroke-linecap="butt" />
<text transform="translate(1330.40 2204.55) scale(1 1.04)" font-size="36.0" text-anchor="end" font-weight="normal" font-style="normal" fill="#000" stroke="#000" stroke-width="0.6" >4 h</text>
<line x1="1435.00" y1="2269.60" x2="1435.00" y2="2289.80" stroke="#000" stroke-width="4.6" stroke-linecap="butt" />
<text transform="translate(1439.60 2321.80) rotate(-45) scale(1 1.04)" font-size="35.5" text-anchor="end" font-weight="normal" font-style="normal" fill="#000" stroke="#000" stroke-width="0.6" >OD<tspan font-size="25.6" dy="8.388">600</tspan><tspan dy="-8.388"> = 0.02</tspan></text>
<line x1="1590.20" y1="2269.60" x2="1590.20" y2="2289.80" stroke="#000" stroke-width="4.6" stroke-linecap="butt" />
<text transform="translate(1594.80 2321.80) rotate(-45) scale(1 1.04)" font-size="35.5" text-anchor="end" font-weight="normal" font-style="normal" fill="#000" stroke="#000" stroke-width="0.6" >OD<tspan font-size="25.6" dy="8.388">600</tspan><tspan dy="-8.388"> = 0.05</tspan></text>
<line x1="1745.40" y1="2269.60" x2="1745.40" y2="2289.80" stroke="#000" stroke-width="4.6" stroke-linecap="butt" />
<text transform="translate(1750.00 2321.80) rotate(-45) scale(1 1.04)" font-size="35.5" text-anchor="end" font-weight="normal" font-style="normal" fill="#000" stroke="#000" stroke-width="0.6" >OD<tspan font-size="25.6" dy="8.388">600</tspan><tspan dy="-8.388"> = 0.1</tspan></text>
<defs><linearGradient id="g2" x1="0" y1="0" x2="0" y2="1"><stop offset="0" stop-color="#4668a3"/><stop offset="1" stop-color="#f4f4f8"/></linearGradient></defs>
<rect x="1881.30" y="1650.00" width="57.60" height="619.60" fill="url(#g2)" stroke="#000" stroke-width="4.6"/>
<line x1="1881.30" y1="1659.10" x2="1892.00" y2="1659.10" stroke="#000" stroke-width="4.6" stroke-linecap="butt" />
<line x1="1928.20" y1="1659.10" x2="1938.90" y2="1659.10" stroke="#000" stroke-width="4.6" stroke-linecap="butt" />
<text transform="translate(1959.40 1672.20) scale(1 1.04)" font-size="37.5" text-anchor="start" font-weight="normal" font-style="normal" fill="#000" stroke="#000" stroke-width="0.6" >3000</text>
<line x1="1881.30" y1="1799.60" x2="1892.00" y2="1799.60" stroke="#000" stroke-width="4.6" stroke-linecap="butt" />
<line x1="1928.20" y1="1799.60" x2="1938.90" y2="1799.60" stroke="#000" stroke-width="4.6" stroke-linecap="butt" />
<text transform="translate(1959.40 1812.70) scale(1 1.04)" font-size="37.5" text-anchor="start" font-weight="normal" font-style="normal" fill="#000" stroke="#000" stroke-width="0.6" >2000</text>
<line x1="1881.30" y1="1940.10" x2="1892.00" y2="1940.10" stroke="#000" stroke-width="4.6" stroke-linecap="butt" />
<line x1="1928.20" y1="1940.10" x2="1938.90" y2="1940.10" stroke="#000" stroke-width="4.6" stroke-linecap="butt" />
<text transform="translate(1959.40 1953.20) scale(1 1.04)" font-size="37.5" text-anchor="start" font-weight="normal" font-style="normal" fill="#000" stroke="#000" stroke-width="0.6" >1000</text>
<line x1="1881.30" y1="2080.60" x2="1892.00" y2="2080.60" stroke="#000" stroke-width="4.6" stroke-linecap="butt" />
<line x1="1928.20" y1="2080.60" x2="1938.90" y2="2080.60" stroke="#000" stroke-width="4.6" stroke-linecap="butt" />
<text transform="translate(1959.40 2093.70) scale(1 1.04)" font-size="37.5" text-anchor="start" font-weight="normal" font-style="normal" fill="#000" stroke="#000" stroke-width="0.6" >0</text>
<line x1="1881.30" y1="2221.10" x2="1892.00" y2="2221.10" stroke="#000" stroke-width="4.6" stroke-linecap="butt" />
<line x1="1928.20" y1="2221.10" x2="1938.90" y2="2221.10" stroke="#000" stroke-width="4.6" stroke-linecap="butt" />
<text transform="translate(1959.40 2234.20) scale(1 1.04)" font-size="37.5" text-anchor="start" font-weight="normal" font-style="normal" fill="#000" stroke="#000" stroke-width="0.6" >-1000</text>
<text transform="translate(2132.50 1940.30) rotate(90) scale(1 1.04)" font-size="37.8" text-anchor="middle" font-weight="normal" font-style="normal" fill="#000" stroke="#000" stroke-width="0.6" >ΔG’ [Pa]</text>
<text transform="translate(2086.30 1940.30) rotate(90) scale(1 1.04)" font-size="37.8" text-anchor="middle" font-weight="normal" font-style="normal" fill="#000" stroke="#000" stroke-width="0.6" >(Induced – Uninduced)</text>
<text transform="translate(1265.10 1620.70)" font-size="46" text-anchor="start" font-weight="bold" font-style="normal" fill="#1a1a1a" >f.</text>
<path d="M370.8 32.5 C371.1 33.7 371.9 37.2 372.4 39.5 C372.9 41.8 373.6 44.8 373.8 46.0 C374.0 47.2 373.8 46.4 373.7 46.6 C373.7 46.8 373.6 47.1 373.5 47.3 C373.4 47.5 373.3 47.7 373.1 47.9 C373.0 48.1 372.8 48.3 372.7 48.5 C372.5 48.7 372.3 49.0 372.1 49.2 C371.9 49.4 371.7 49.6 371.4 49.8 C371.2 50.0 371.0 50.2 370.8 50.4 C370.6 50.6 370.3 50.9 370.1 51.1 C369.9 51.3 369.7 51.5 369.5 51.7 C369.3 51.9 369.1 52.1 369.0 52.3 C368.8 52.5 368.7 52.8 368.5 53.0 C368.4 53.2 368.3 53.4 368.2 53.6 C368.1 53.8 368.1 54.0 368.0 54.2 C368.0 54.4 368.0 54.7 368.0 54.9 C368.0 55.1 368.1 55.3 368.1 55.5 C368.2 55.7 368.3 55.9 368.4 56.1 C368.5 56.3 368.7 56.6 368.8 56.8 C369.0 57.0 369.1 57.2 369.3 57.4 C369.5 57.6 369.7 57.8 369.9 58.0 C370.1 58.2 370.4 58.5 370.6 58.7 C370.8 58.9 371.0 59.1 371.2 59.3 C371.5 59.5 371.7 59.7 371.9 59.9 C372.1 60.1 372.3 60.4 372.5 60.6 C372.7 60.8 372.8 61.0 373.0 61.2 C373.1 61.4 373.3 61.6 373.4 61.8 C373.5 62.0 373.6 62.3 373.7 62.5 C373.7 62.7 373.8 62.9 373.8 63.1 C373.8 63.3 373.8 63.5 373.8 63.7 C373.7 63.9 373.7 64.2 373.6 64.4 C373.5 64.6 373.4 64.8 373.3 65.0 C373.1 65.2 373.0 65.4 372.8 65.6 C372.7 65.8 372.5 66.1 372.3 66.3 C372.1 66.5 371.9 66.7 371.7 66.9 C371.4 67.1 371.2 67.3 371.0 67.5 C370.8 67.7 370.5 68.0 370.3 68.2 C370.1 68.4 369.9 68.6 369.7 68.8 C369.5 69.0 369.3 69.2 369.1 69.4 C369.0 69.6 368.8 69.9 368.7 70.1 C368.5 70.3 368.4 70.5 368.3 70.7 C368.2 70.9 368.1 71.1 368.1 71.3 C368.0 71.5 368.0 71.8 368.0 72.0 C368.0 72.2 368.0 72.4 368.1 72.6 C368.1 72.8 368.2 73.0 368.3 73.2 C368.4 73.4 368.5 73.7 368.7 73.9 C368.8 74.1 369.0 74.3 369.2 74.5 C369.3 74.7 369.5 74.9 369.7 75.1 C369.9 75.3 370.2 75.6 370.4 75.8 C370.6 76.0 370.8 76.2 371.0 76.4 C371.3 76.6 371.5 76.8 371.7 77.0 C371.9 77.2 372.1 77.5 372.3 77.7 C372.5 77.9 372.7 78.1 372.8 78.3 C373.0 78.5 373.2 78.7 373.3 78.9 C373.4 79.1 373.5 79.4 373.6 79.6 C373.7 79.8 373.7 80.0 373.8 80.2 C373.8 80.4 373.8 80.6 373.8 80.8 C373.8 81.0 373.7 81.3 373.7 81.5 C373.6 81.7 373.5 81.9 373.4 82.1 C373.3 82.3 373.1 82.5 373.0 82.7 C372.8 82.9 372.6 83.2 372.5 83.4 C372.3 83.6 372.0 83.9 371.9 84.0" fill="none" stroke="#e3262d" stroke-width="5.4" stroke-linejoin="round" stroke-linecap="butt"/>
<line x1="355.40" y1="18.10" x2="385.80" y2="46.30" stroke="#e3262d" stroke-width="5.8" stroke-linecap="butt" />
<line x1="355.40" y1="46.30" x2="385.80" y2="18.10" stroke="#e3262d" stroke-width="5.8" stroke-linecap="butt" />
<line x1="620.20" y1="33.50" x2="668.40" y2="33.50" stroke="#e3262d" stroke-width="6.6" stroke-linecap="butt" />
<line x1="644.30" y1="33.50" x2="644.30" y2="85.70" stroke="#e3262d" stroke-width="6.0" stroke-linecap="butt" />
<line x1="344.00" y1="85.70" x2="679.00" y2="85.70" stroke="#000" stroke-width="6.0" stroke-linecap="butt" />
<path d="M404.60 85.70 A25.8 25.8 0 0 1 456.20 85.70 Z" fill="#e3262d" stroke="#000" stroke-width="6"/>
<polygon points="469.2,56.8 563.0,56.8 563.0,31.1 611.5,85.5 563.0,138.6 563.0,114.9 469.2,114.9" fill="#000"/>
<polygon points="475.2,62.8 569.0,62.8 569.0,46.8 603.5,85.5 569.0,123.1 569.0,108.9 475.2,108.9" fill="#e3262d"/>
<text transform="translate(531.80 94.20)" font-size="28.2" text-anchor="middle" font-weight="normal" font-style="italic" fill="#fff" font-family='"DejaVu Sans", "Liberation Sans", sans-serif' >mtrA</text>
<path d="M1455.2 29.6 C1455.5 30.8 1456.3 34.4 1456.8 36.6 C1457.3 38.9 1458.0 41.9 1458.2 43.1 C1458.4 44.3 1458.2 43.5 1458.1 43.7 C1458.1 43.9 1458.0 44.2 1457.9 44.4 C1457.8 44.6 1457.7 44.8 1457.5 45.0 C1457.4 45.2 1457.2 45.4 1457.1 45.6 C1456.9 45.8 1456.7 46.1 1456.5 46.3 C1456.3 46.5 1456.1 46.7 1455.8 46.9 C1455.6 47.1 1455.4 47.3 1455.2 47.5 C1455.0 47.7 1454.7 48.0 1454.5 48.2 C1454.3 48.4 1454.1 48.6 1453.9 48.8 C1453.7 49.0 1453.5 49.2 1453.4 49.4 C1453.2 49.6 1453.1 49.9 1452.9 50.1 C1452.8 50.3 1452.7 50.5 1452.6 50.7 C1452.5 50.9 1452.5 51.1 1452.4 51.3 C1452.4 51.5 1452.4 51.8 1452.4 52.0 C1452.4 52.2 1452.5 52.4 1452.5 52.6 C1452.6 52.8 1452.7 53.0 1452.8 53.2 C1452.9 53.4 1453.1 53.7 1453.2 53.9 C1453.4 54.1 1453.5 54.3 1453.7 54.5 C1453.9 54.7 1454.1 54.9 1454.3 55.1 C1454.5 55.3 1454.8 55.6 1455.0 55.8 C1455.2 56.0 1455.4 56.2 1455.6 56.4 C1455.9 56.6 1456.1 56.8 1456.3 57.0 C1456.5 57.2 1456.7 57.5 1456.9 57.7 C1457.1 57.9 1457.2 58.1 1457.4 58.3 C1457.5 58.5 1457.7 58.7 1457.8 58.9 C1457.9 59.1 1458.0 59.4 1458.1 59.6 C1458.1 59.8 1458.2 60.0 1458.2 60.2 C1458.2 60.4 1458.2 60.6 1458.2 60.8 C1458.1 61.0 1458.1 61.3 1458.0 61.5 C1457.9 61.7 1457.8 61.9 1457.7 62.1 C1457.5 62.3 1457.4 62.5 1457.2 62.7 C1457.1 62.9 1456.9 63.2 1456.7 63.4 C1456.5 63.6 1456.3 63.8 1456.1 64.0 C1455.8 64.2 1455.6 64.4 1455.4 64.6 C1455.2 64.8 1454.9 65.1 1454.7 65.3 C1454.5 65.5 1454.3 65.7 1454.1 65.9 C1453.9 66.1 1453.7 66.3 1453.5 66.5 C1453.4 66.7 1453.2 67.0 1453.1 67.2 C1452.9 67.4 1452.8 67.6 1452.7 67.8 C1452.6 68.0 1452.5 68.2 1452.5 68.4 C1452.4 68.6 1452.4 68.9 1452.4 69.1 C1452.4 69.3 1452.4 69.5 1452.5 69.7 C1452.5 69.9 1452.6 70.1 1452.7 70.3 C1452.8 70.5 1452.9 70.8 1453.1 71.0 C1453.2 71.2 1453.4 71.4 1453.6 71.6 C1453.7 71.8 1453.9 72.0 1454.1 72.2 C1454.3 72.4 1454.6 72.7 1454.8 72.9 C1455.0 73.1 1455.2 73.3 1455.4 73.5 C1455.7 73.7 1455.9 73.9 1456.1 74.1 C1456.3 74.3 1456.5 74.6 1456.7 74.8 C1456.9 75.0 1457.1 75.2 1457.2 75.4 C1457.4 75.6 1457.6 75.8 1457.7 76.0 C1457.8 76.2 1457.9 76.5 1458.0 76.7 C1458.1 76.9 1458.1 77.1 1458.2 77.3 C1458.2 77.5 1458.2 77.7 1458.2 77.9 C1458.2 78.1 1458.1 78.4 1458.1 78.6 C1458.0 78.8 1457.9 79.0 1457.8 79.2 C1457.7 79.4 1457.5 79.6 1457.4 79.8 C1457.2 80.0 1457.0 80.3 1456.9 80.5 C1456.7 80.7 1456.4 81.0 1456.3 81.1" fill="none" stroke="#1f4fa3" stroke-width="5.4" stroke-linejoin="round" stroke-linecap="butt"/>
<line x1="1439.80" y1="15.20" x2="1470.20" y2="43.40" stroke="#1f4fa3" stroke-width="5.8" stroke-linecap="butt" />
<line x1="1439.80" y1="43.40" x2="1470.20" y2="15.20" stroke="#1f4fa3" stroke-width="5.8" stroke-linecap="butt" />
<line x1="1671.00" y1="30.60" x2="1719.20" y2="30.60" stroke="#1f4fa3" stroke-width="6.6" stroke-linecap="butt" />
<line x1="1695.10" y1="30.60" x2="1695.10" y2="82.50" stroke="#1f4fa3" stroke-width="6.0" stroke-linecap="butt" />
<line x1="1429.00" y1="82.50" x2="1729.00" y2="82.50" stroke="#000" stroke-width="6.0" stroke-linecap="butt" />
<path d="M1488.60 82.50 A25.8 25.8 0 0 1 1540.20 82.50 Z" fill="#1f4fa3" stroke="#000" stroke-width="6"/>
<polygon points="1552.6,53.9 1614.6,53.9 1614.6,28.2 1662.8,82.6 1614.6,135.7 1614.6,112.0 1552.6,112.0" fill="#000"/>
<polygon points="1558.6,59.9 1620.6,59.9 1620.6,44.0 1654.8,82.6 1620.6,120.2 1620.6,106.0 1558.6,106.0" fill="#1f4fa3"/>
<text transform="translate(1599.60 91.30)" font-size="28.6" text-anchor="middle" font-weight="normal" font-style="italic" fill="#fff" font-family='"DejaVu Sans", "Liberation Sans", sans-serif' >cymA</text>
</svg>
</body></html>
